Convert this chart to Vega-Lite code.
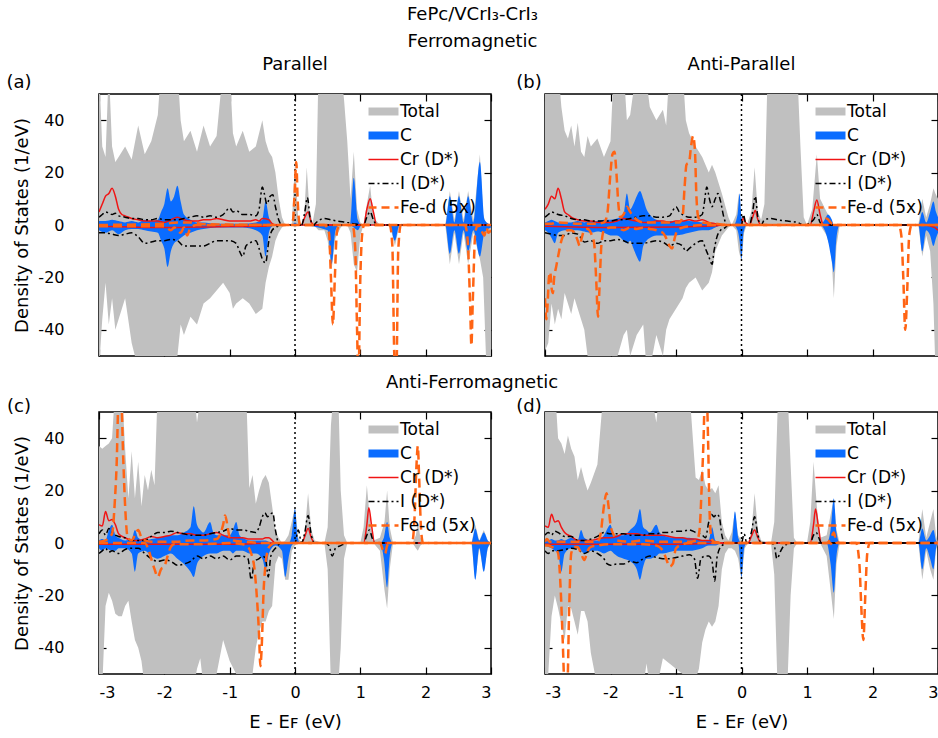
{
"$schema": "https://vega.github.io/schema/vega-lite/v6.json",
"background": "white",
"padding": {"left": 5, "right": 2, "top": 6, "bottom": 5},
"title": {"text": "FePc/VCrI₃-CrI₃", "subtitle": "Ferromagnetic", "anchor": "middle", "frame": "bounds", "fontSize": 18, "subtitleFontSize": 18, "fontWeight": "normal", "color": "black", "subtitleColor": "black", "subtitlePadding": 9, "offset": 4},
"config": {
  "font": "DejaVu Sans",
  "view": {"stroke": "black", "strokeWidth": 1.5},
  "axis": {"grid": false, "domain": false, "tickColor": "black", "tickWidth": 1.2, "labelFontSize": 16, "labelColor": "black", "titleFontSize": 18, "titleFontWeight": "normal", "titleColor": "black"},
  "title": {"fontWeight": "normal", "fontSize": 18, "color": "black"},
  "legend": {"title": null, "orient": "top-right", "offset": 7, "padding": 2, "labelFontSize": 17, "labelColor": "black", "symbolType": "M-1,0H1", "symbolSize": 900, "rowPadding": 6, "labelOffset": 8}
},
"columns": 2,
"spacing": {"row": 56, "column": 54},
"bounds": "flush",
"resolve": {"scale": {"color": "independent"}, "legend": {"color": "independent"}},
"datasets": {
"A": [
{"s":"Total","x":-3,"u":60,"d":-55},{"s":"Total","x":-2.95,"u":30,"d":-36},{"s":"Total","x":-2.9,"u":26,"d":-22},{"s":"Total","x":-2.85,"u":60,"d":-38},{"s":"Total","x":-2.8,"u":30,"d":-28},{"s":"Total","x":-2.75,"u":24,"d":-40},{"s":"Total","x":-2.7,"u":26,"d":-36},{"s":"Total","x":-2.6,"u":30,"d":-28},{"s":"Total","x":-2.5,"u":25,"d":-45},{"s":"Total","x":-2.4,"u":38,"d":-55},{"s":"Total","x":-2.3,"u":27,"d":-55},{"s":"Total","x":-2.2,"u":32,"d":-55},{"s":"Total","x":-2.1,"u":42,"d":-55},{"s":"Total","x":-2.05,"u":60,"d":-55},{"s":"Total","x":-1.9,"u":60,"d":-55},{"s":"Total","x":-1.8,"u":60,"d":-50},{"s":"Total","x":-1.75,"u":40,"d":-38},{"s":"Total","x":-1.7,"u":32,"d":-42},{"s":"Total","x":-1.6,"u":36,"d":-35},{"s":"Total","x":-1.5,"u":28,"d":-38},{"s":"Total","x":-1.4,"u":38,"d":-30},{"s":"Total","x":-1.3,"u":30,"d":-28},{"s":"Total","x":-1.2,"u":34,"d":-25},{"s":"Total","x":-1.1,"u":60,"d":-22},{"s":"Total","x":-1.0,"u":60,"d":-26},{"s":"Total","x":-0.95,"u":35,"d":-32},{"s":"Total","x":-0.9,"u":30,"d":-30},{"s":"Total","x":-0.8,"u":36,"d":-28},{"s":"Total","x":-0.7,"u":28,"d":-30},{"s":"Total","x":-0.6,"u":30,"d":-34},{"s":"Total","x":-0.5,"u":40,"d":-32},{"s":"Total","x":-0.45,"u":32,"d":-22},{"s":"Total","x":-0.4,"u":28,"d":-16},{"s":"Total","x":-0.35,"u":26,"d":-12},{"s":"Total","x":-0.3,"u":20,"d":-6},{"s":"Total","x":-0.25,"u":10,"d":-3},{"s":"Total","x":-0.2,"u":3,"d":-1},{"s":"Total","x":-0.15,"u":0,"d":0},{"s":"Total","x":-0.05,"u":0,"d":0},{"s":"Total","x":0,"u":24,"d":-1},{"s":"Total","x":0.05,"u":2,"d":0},{"s":"Total","x":0.1,"u":0,"d":0},{"s":"Total","x":0.14,"u":3,"d":0},{"s":"Total","x":0.18,"u":22,"d":0},{"s":"Total","x":0.22,"u":6,"d":0},{"s":"Total","x":0.27,"u":1,"d":0},{"s":"Total","x":0.32,"u":8,"d":-1},{"s":"Total","x":0.36,"u":60,"d":-2},{"s":"Total","x":0.45,"u":60,"d":-2},{"s":"Total","x":0.5,"u":60,"d":-6},{"s":"Total","x":0.56,"u":60,"d":-17},{"s":"Total","x":0.62,"u":60,"d":-5},{"s":"Total","x":0.7,"u":60,"d":-1},{"s":"Total","x":0.75,"u":48,"d":0},{"s":"Total","x":0.8,"u":32,"d":0},{"s":"Total","x":0.85,"u":10,"d":-3},{"s":"Total","x":0.9,"u":28,"d":-15},{"s":"Total","x":0.95,"u":6,"d":-18},{"s":"Total","x":1.0,"u":1,"d":-4},{"s":"Total","x":1.05,"u":0,"d":0},{"s":"Total","x":1.1,"u":8,"d":0},{"s":"Total","x":1.15,"u":15,"d":0},{"s":"Total","x":1.2,"u":3,"d":0},{"s":"Total","x":1.3,"u":0,"d":0},{"s":"Total","x":1.45,"u":0,"d":0},{"s":"Total","x":1.53,"u":0,"d":-8},{"s":"Total","x":1.6,"u":0,"d":0},{"s":"Total","x":2.3,"u":0,"d":0},{"s":"Total","x":2.37,"u":13,"d":-15},{"s":"Total","x":2.44,"u":2,"d":-3},{"s":"Total","x":2.51,"u":13,"d":-15},{"s":"Total","x":2.58,"u":2,"d":-3},{"s":"Total","x":2.65,"u":13,"d":-15},{"s":"Total","x":2.73,"u":2,"d":-3},{"s":"Total","x":2.83,"u":27,"d":-13},{"s":"Total","x":2.88,"u":4,"d":-20},{"s":"Total","x":2.93,"u":0,"d":-55},{"s":"Total","x":3,"u":0,"d":-55},
{"s":"C","x":-3,"u":1.5,"d":-2},{"s":"C","x":-2.9,"u":1.5,"d":-3},{"s":"C","x":-2.8,"u":2,"d":-2},{"s":"C","x":-2.7,"u":1.5,"d":-3.5},{"s":"C","x":-2.6,"u":1,"d":-2},{"s":"C","x":-2.5,"u":1.5,"d":-1.5},{"s":"C","x":-2.4,"u":1,"d":-1.5},{"s":"C","x":-2.3,"u":2,"d":-2},{"s":"C","x":-2.2,"u":1.5,"d":-2.5},{"s":"C","x":-2.1,"u":2,"d":-3},{"s":"C","x":-2.05,"u":5,"d":-6},{"s":"C","x":-2,"u":8,"d":-9},{"s":"C","x":-1.95,"u":14,"d":-16},{"s":"C","x":-1.9,"u":9,"d":-10},{"s":"C","x":-1.85,"u":11,"d":-7},{"s":"C","x":-1.8,"u":15,"d":-6},{"s":"C","x":-1.75,"u":9,"d":-5},{"s":"C","x":-1.7,"u":4,"d":-4},{"s":"C","x":-1.6,"u":2,"d":-3},{"s":"C","x":-1.5,"u":1,"d":-2},{"s":"C","x":-1.4,"u":1,"d":-1.5},{"s":"C","x":-1.2,"u":0.5,"d":-1},{"s":"C","x":-1,"u":0.5,"d":-1},{"s":"C","x":-0.8,"u":0.5,"d":-1},{"s":"C","x":-0.6,"u":1,"d":-2},{"s":"C","x":-0.5,"u":2,"d":-4},{"s":"C","x":-0.45,"u":9,"d":-12},{"s":"C","x":-0.4,"u":3,"d":-3},{"s":"C","x":-0.35,"u":0.5,"d":-0.5},{"s":"C","x":-0.3,"u":0,"d":0},{"s":"C","x":-0.05,"u":0,"d":0},{"s":"C","x":0,"u":1,"d":0},{"s":"C","x":0.05,"u":0,"d":0},{"s":"C","x":0.5,"u":0,"d":-2},{"s":"C","x":0.56,"u":0,"d":-15},{"s":"C","x":0.62,"u":0,"d":-2},{"s":"C","x":0.68,"u":0,"d":0},{"s":"C","x":0.84,"u":0,"d":0},{"s":"C","x":0.9,"u":18,"d":-1},{"s":"C","x":0.96,"u":2,"d":-2},{"s":"C","x":1.02,"u":0,"d":0},{"s":"C","x":1.45,"u":0,"d":0},{"s":"C","x":1.53,"u":0,"d":-6},{"s":"C","x":1.6,"u":0,"d":0},{"s":"C","x":2.3,"u":0,"d":0},{"s":"C","x":2.37,"u":11,"d":-11},{"s":"C","x":2.44,"u":1,"d":-2},{"s":"C","x":2.51,"u":11,"d":-11},{"s":"C","x":2.58,"u":1,"d":-2},{"s":"C","x":2.65,"u":11,"d":-10},{"s":"C","x":2.73,"u":1,"d":-2},{"s":"C","x":2.83,"u":24,"d":-12},{"s":"C","x":2.9,"u":2,"d":-3},{"s":"C","x":3,"u":0,"d":-1},
{"s":"Cr","p":"u","x":-3,"y":5},{"s":"Cr","p":"u","x":-2.95,"y":8},{"s":"Cr","p":"u","x":-2.9,"y":11},{"s":"Cr","p":"u","x":-2.85,"y":12},{"s":"Cr","p":"u","x":-2.8,"y":14},{"s":"Cr","p":"u","x":-2.75,"y":11},{"s":"Cr","p":"u","x":-2.7,"y":6},{"s":"Cr","p":"u","x":-2.65,"y":4},{"s":"Cr","p":"u","x":-2.6,"y":3.5},{"s":"Cr","p":"u","x":-2.5,"y":2.5},{"s":"Cr","p":"u","x":-2.4,"y":2},{"s":"Cr","p":"u","x":-2.3,"y":1.5},{"s":"Cr","p":"u","x":-2.2,"y":1.5},{"s":"Cr","p":"u","x":-2.1,"y":1.5},{"s":"Cr","p":"u","x":-2,"y":1},{"s":"Cr","p":"u","x":-1.9,"y":2},{"s":"Cr","p":"u","x":-1.8,"y":3},{"s":"Cr","p":"u","x":-1.7,"y":2},{"s":"Cr","p":"u","x":-1.6,"y":1.5},{"s":"Cr","p":"u","x":-1.5,"y":1.5},{"s":"Cr","p":"u","x":-1.4,"y":2},{"s":"Cr","p":"u","x":-1.3,"y":2},{"s":"Cr","p":"u","x":-1.2,"y":2.5},{"s":"Cr","p":"u","x":-1.1,"y":2},{"s":"Cr","p":"u","x":-1,"y":1.5},{"s":"Cr","p":"u","x":-0.9,"y":1.5},{"s":"Cr","p":"u","x":-0.8,"y":1.5},{"s":"Cr","p":"u","x":-0.7,"y":1.5},{"s":"Cr","p":"u","x":-0.6,"y":2},{"s":"Cr","p":"u","x":-0.55,"y":1.5},{"s":"Cr","p":"u","x":-0.5,"y":2.5},{"s":"Cr","p":"u","x":-0.4,"y":2},{"s":"Cr","p":"u","x":-0.35,"y":0.5},{"s":"Cr","p":"u","x":-0.3,"y":0},{"s":"Cr","p":"u","x":0.1,"y":0},{"s":"Cr","p":"u","x":0.15,"y":3},{"s":"Cr","p":"u","x":0.2,"y":5},{"s":"Cr","p":"u","x":0.25,"y":1},{"s":"Cr","p":"u","x":0.3,"y":0},{"s":"Cr","p":"u","x":1.05,"y":0},{"s":"Cr","p":"u","x":1.1,"y":6},{"s":"Cr","p":"u","x":1.15,"y":10},{"s":"Cr","p":"u","x":1.2,"y":5},{"s":"Cr","p":"u","x":1.25,"y":0},{"s":"Cr","p":"u","x":3,"y":0},
{"s":"Cr","p":"d","x":-3,"y":-0.5},{"s":"Cr","p":"d","x":-2.5,"y":-0.8},{"s":"Cr","p":"d","x":-2,"y":-1},{"s":"Cr","p":"d","x":-1.5,"y":-0.8},{"s":"Cr","p":"d","x":-1,"y":-0.6},{"s":"Cr","p":"d","x":-0.5,"y":-0.5},{"s":"Cr","p":"d","x":-0.3,"y":0},{"s":"Cr","p":"d","x":3,"y":0},
{"s":"I","p":"u","x":-3,"y":3},{"s":"I","p":"u","x":-2.95,"y":4},{"s":"I","p":"u","x":-2.9,"y":5},{"s":"I","p":"u","x":-2.85,"y":4.5},{"s":"I","p":"u","x":-2.8,"y":4},{"s":"I","p":"u","x":-2.75,"y":4.5},{"s":"I","p":"u","x":-2.7,"y":3.5},{"s":"I","p":"u","x":-2.6,"y":3},{"s":"I","p":"u","x":-2.5,"y":2.5},{"s":"I","p":"u","x":-2.4,"y":2.5},{"s":"I","p":"u","x":-2.3,"y":2},{"s":"I","p":"u","x":-2.2,"y":2},{"s":"I","p":"u","x":-2.1,"y":2.5},{"s":"I","p":"u","x":-2,"y":2},{"s":"I","p":"u","x":-1.9,"y":2},{"s":"I","p":"u","x":-1.8,"y":2},{"s":"I","p":"u","x":-1.7,"y":2.5},{"s":"I","p":"u","x":-1.6,"y":3},{"s":"I","p":"u","x":-1.5,"y":3.5},{"s":"I","p":"u","x":-1.4,"y":3},{"s":"I","p":"u","x":-1.3,"y":3.5},{"s":"I","p":"u","x":-1.2,"y":3},{"s":"I","p":"u","x":-1.1,"y":4},{"s":"I","p":"u","x":-1,"y":6.5},{"s":"I","p":"u","x":-0.95,"y":5},{"s":"I","p":"u","x":-0.9,"y":5.5},{"s":"I","p":"u","x":-0.8,"y":4},{"s":"I","p":"u","x":-0.7,"y":4},{"s":"I","p":"u","x":-0.6,"y":3.5},{"s":"I","p":"u","x":-0.55,"y":6},{"s":"I","p":"u","x":-0.5,"y":14.5},{"s":"I","p":"u","x":-0.47,"y":12},{"s":"I","p":"u","x":-0.43,"y":8},{"s":"I","p":"u","x":-0.38,"y":11},{"s":"I","p":"u","x":-0.34,"y":11.5},{"s":"I","p":"u","x":-0.3,"y":7},{"s":"I","p":"u","x":-0.25,"y":2},{"s":"I","p":"u","x":-0.2,"y":0},{"s":"I","p":"u","x":0.1,"y":0},{"s":"I","p":"u","x":0.15,"y":5},{"s":"I","p":"u","x":0.19,"y":10.5},{"s":"I","p":"u","x":0.23,"y":3},{"s":"I","p":"u","x":0.28,"y":0},{"s":"I","p":"u","x":0.35,"y":1.5},{"s":"I","p":"u","x":0.45,"y":2.5},{"s":"I","p":"u","x":0.55,"y":2},{"s":"I","p":"u","x":0.65,"y":1.5},{"s":"I","p":"u","x":0.8,"y":1},{"s":"I","p":"u","x":0.9,"y":0.5},{"s":"I","p":"u","x":1.05,"y":0},{"s":"I","p":"u","x":1.1,"y":3},{"s":"I","p":"u","x":1.15,"y":5},{"s":"I","p":"u","x":1.2,"y":2},{"s":"I","p":"u","x":1.25,"y":0},{"s":"I","p":"u","x":3,"y":0},
{"s":"I","p":"d","x":-3,"y":-3},{"s":"I","p":"d","x":-2.9,"y":-3},{"s":"I","p":"d","x":-2.8,"y":-3.5},{"s":"I","p":"d","x":-2.7,"y":-4},{"s":"I","p":"d","x":-2.6,"y":-3.5},{"s":"I","p":"d","x":-2.5,"y":-3},{"s":"I","p":"d","x":-2.4,"y":-4.5},{"s":"I","p":"d","x":-2.3,"y":-7},{"s":"I","p":"d","x":-2.2,"y":-6.5},{"s":"I","p":"d","x":-2.1,"y":-6},{"s":"I","p":"d","x":-2,"y":-6},{"s":"I","p":"d","x":-1.9,"y":-5.5},{"s":"I","p":"d","x":-1.8,"y":-6},{"s":"I","p":"d","x":-1.7,"y":-8},{"s":"I","p":"d","x":-1.6,"y":-8},{"s":"I","p":"d","x":-1.5,"y":-8},{"s":"I","p":"d","x":-1.4,"y":-8},{"s":"I","p":"d","x":-1.3,"y":-7},{"s":"I","p":"d","x":-1.2,"y":-6},{"s":"I","p":"d","x":-1.1,"y":-6},{"s":"I","p":"d","x":-1,"y":-6},{"s":"I","p":"d","x":-0.9,"y":-7},{"s":"I","p":"d","x":-0.85,"y":-10},{"s":"I","p":"d","x":-0.8,"y":-12},{"s":"I","p":"d","x":-0.75,"y":-8},{"s":"I","p":"d","x":-0.7,"y":-7},{"s":"I","p":"d","x":-0.6,"y":-6},{"s":"I","p":"d","x":-0.55,"y":-9},{"s":"I","p":"d","x":-0.5,"y":-13},{"s":"I","p":"d","x":-0.45,"y":-14.5},{"s":"I","p":"d","x":-0.4,"y":-6},{"s":"I","p":"d","x":-0.35,"y":-2},{"s":"I","p":"d","x":-0.3,"y":-1},{"s":"I","p":"d","x":-0.2,"y":0},{"s":"I","p":"d","x":3,"y":0},
{"s":"Fe","p":"u","x":-3,"y":0},{"s":"Fe","p":"u","x":-2,"y":0.5},{"s":"Fe","p":"u","x":-1.8,"y":1},{"s":"Fe","p":"u","x":-1.6,"y":1},{"s":"Fe","p":"u","x":-1.4,"y":0.3},{"s":"Fe","p":"u","x":-0.1,"y":0},{"s":"Fe","p":"u","x":-0.03,"y":2},{"s":"Fe","p":"u","x":-0.01,"y":10},{"s":"Fe","p":"u","x":0.02,"y":24},{"s":"Fe","p":"u","x":0.04,"y":10},{"s":"Fe","p":"u","x":0.06,"y":2},{"s":"Fe","p":"u","x":0.08,"y":0},{"s":"Fe","p":"u","x":3,"y":0},
{"s":"Fe","p":"d","x":-3,"y":-0.5},{"s":"Fe","p":"d","x":-2,"y":-0.5},{"s":"Fe","p":"d","x":-1.9,"y":-2},{"s":"Fe","p":"d","x":-1.85,"y":-1},{"s":"Fe","p":"d","x":-1.75,"y":-3},{"s":"Fe","p":"d","x":-1.7,"y":-1},{"s":"Fe","p":"d","x":-1.65,"y":-4},{"s":"Fe","p":"d","x":-1.6,"y":-1},{"s":"Fe","p":"d","x":-1.5,"y":0},{"s":"Fe","p":"d","x":0.45,"y":0},{"s":"Fe","p":"d","x":0.52,"y":-3},{"s":"Fe","p":"d","x":0.55,"y":-20},{"s":"Fe","p":"d","x":0.58,"y":-38},{"s":"Fe","p":"d","x":0.61,"y":-20},{"s":"Fe","p":"d","x":0.64,"y":-3},{"s":"Fe","p":"d","x":0.68,"y":0},{"s":"Fe","p":"d","x":0.88,"y":0},{"s":"Fe","p":"d","x":0.92,"y":-8},{"s":"Fe","p":"d","x":0.95,"y":-40},{"s":"Fe","p":"d","x":0.97,"y":-60},{"s":"Fe","p":"d","x":1,"y":-20},{"s":"Fe","p":"d","x":1.03,"y":-3},{"s":"Fe","p":"d","x":1.06,"y":0},{"s":"Fe","p":"d","x":1.45,"y":0},{"s":"Fe","p":"d","x":1.49,"y":-8},{"s":"Fe","p":"d","x":1.52,"y":-50},{"s":"Fe","p":"d","x":1.55,"y":-60},{"s":"Fe","p":"d","x":1.58,"y":-10},{"s":"Fe","p":"d","x":1.62,"y":0},{"s":"Fe","p":"d","x":2.6,"y":0},{"s":"Fe","p":"d","x":2.64,"y":-5},{"s":"Fe","p":"d","x":2.68,"y":-30},{"s":"Fe","p":"d","x":2.7,"y":-46},{"s":"Fe","p":"d","x":2.72,"y":-30},{"s":"Fe","p":"d","x":2.76,"y":-3},{"s":"Fe","p":"d","x":2.8,"y":0},{"s":"Fe","p":"d","x":2.85,"y":-2},{"s":"Fe","p":"d","x":2.9,"y":-4},{"s":"Fe","p":"d","x":2.93,"y":-1},{"s":"Fe","p":"d","x":2.96,"y":-3},{"s":"Fe","p":"d","x":3,"y":-2}
],
"B": [
{"s":"Total","x":-3,"u":60,"d":-48},{"s":"Total","x":-2.95,"u":60,"d":-45},{"s":"Total","x":-2.9,"u":60,"d":-30},{"s":"Total","x":-2.85,"u":60,"d":-38},{"s":"Total","x":-2.8,"u":60,"d":-32},{"s":"Total","x":-2.75,"u":45,"d":-36},{"s":"Total","x":-2.7,"u":36,"d":-26},{"s":"Total","x":-2.65,"u":33,"d":-30},{"s":"Total","x":-2.6,"u":38,"d":-34},{"s":"Total","x":-2.55,"u":30,"d":-28},{"s":"Total","x":-2.5,"u":39,"d":-32},{"s":"Total","x":-2.45,"u":28,"d":-36},{"s":"Total","x":-2.4,"u":26,"d":-40},{"s":"Total","x":-2.35,"u":34,"d":-50},{"s":"Total","x":-2.3,"u":30,"d":-55},{"s":"Total","x":-2.2,"u":33,"d":-55},{"s":"Total","x":-2.1,"u":26,"d":-55},{"s":"Total","x":-2,"u":32,"d":-55},{"s":"Total","x":-1.95,"u":60,"d":-55},{"s":"Total","x":-1.8,"u":60,"d":-42},{"s":"Total","x":-1.75,"u":40,"d":-40},{"s":"Total","x":-1.7,"u":42,"d":-50},{"s":"Total","x":-1.6,"u":60,"d":-42},{"s":"Total","x":-1.5,"u":60,"d":-38},{"s":"Total","x":-1.45,"u":55,"d":-55},{"s":"Total","x":-1.4,"u":45,"d":-55},{"s":"Total","x":-1.3,"u":40,"d":-42},{"s":"Total","x":-1.2,"u":44,"d":-50},{"s":"Total","x":-1.15,"u":38,"d":-40},{"s":"Total","x":-1.1,"u":60,"d":-36},{"s":"Total","x":-0.9,"u":60,"d":-28},{"s":"Total","x":-0.85,"u":40,"d":-24},{"s":"Total","x":-0.8,"u":35,"d":-22},{"s":"Total","x":-0.7,"u":30,"d":-20},{"s":"Total","x":-0.6,"u":26,"d":-25},{"s":"Total","x":-0.5,"u":20,"d":-22},{"s":"Total","x":-0.45,"u":23,"d":-18},{"s":"Total","x":-0.4,"u":20,"d":-10},{"s":"Total","x":-0.3,"u":12,"d":-4},{"s":"Total","x":-0.2,"u":3,"d":-1},{"s":"Total","x":-0.15,"u":0,"d":0},{"s":"Total","x":-0.08,"u":4,"d":-2},{"s":"Total","x":-0.04,"u":12,"d":-10},{"s":"Total","x":0,"u":3,"d":-14},{"s":"Total","x":0.04,"u":2,"d":-3},{"s":"Total","x":0.08,"u":0,"d":0},{"s":"Total","x":0.15,"u":5,"d":0},{"s":"Total","x":0.2,"u":22,"d":0},{"s":"Total","x":0.25,"u":5,"d":0},{"s":"Total","x":0.3,"u":2,"d":0},{"s":"Total","x":0.35,"u":8,"d":0},{"s":"Total","x":0.4,"u":60,"d":0},{"s":"Total","x":0.85,"u":60,"d":0},{"s":"Total","x":0.9,"u":30,"d":0},{"s":"Total","x":0.95,"u":3,"d":0},{"s":"Total","x":1,"u":0,"d":0},{"s":"Total","x":1.08,"u":6,"d":0},{"s":"Total","x":1.15,"u":27,"d":0},{"s":"Total","x":1.2,"u":10,"d":0},{"s":"Total","x":1.3,"u":5,"d":-4},{"s":"Total","x":1.37,"u":2,"d":-10},{"s":"Total","x":1.41,"u":0,"d":-28},{"s":"Total","x":1.45,"u":0,"d":-8},{"s":"Total","x":1.5,"u":0,"d":0},{"s":"Total","x":2.7,"u":0,"d":0},{"s":"Total","x":2.76,"u":10,"d":-12},{"s":"Total","x":2.82,"u":3,"d":-4},{"s":"Total","x":2.88,"u":8,"d":-10},{"s":"Total","x":2.93,"u":14,"d":-30},{"s":"Total","x":2.96,"u":12,"d":-55},{"s":"Total","x":3,"u":10,"d":-55},
{"s":"C","x":-3,"u":1,"d":-2},{"s":"C","x":-2.95,"u":1.5,"d":-3},{"s":"C","x":-2.9,"u":2,"d":-5},{"s":"C","x":-2.85,"u":1.5,"d":-7},{"s":"C","x":-2.8,"u":1,"d":-3},{"s":"C","x":-2.7,"u":1,"d":-2},{"s":"C","x":-2.6,"u":1,"d":-2},{"s":"C","x":-2.5,"u":1.5,"d":-2},{"s":"C","x":-2.4,"u":1,"d":-2.5},{"s":"C","x":-2.3,"u":1.5,"d":-3},{"s":"C","x":-2.2,"u":1.5,"d":-2.5},{"s":"C","x":-2.1,"u":2,"d":-3},{"s":"C","x":-2,"u":2,"d":-4},{"s":"C","x":-1.9,"u":2.5,"d":-4},{"s":"C","x":-1.8,"u":4,"d":-6},{"s":"C","x":-1.75,"u":12,"d":-7},{"s":"C","x":-1.7,"u":6,"d":-6},{"s":"C","x":-1.65,"u":8,"d":-9},{"s":"C","x":-1.6,"u":11,"d":-12},{"s":"C","x":-1.55,"u":13,"d":-14},{"s":"C","x":-1.5,"u":10,"d":-8},{"s":"C","x":-1.45,"u":6,"d":-6},{"s":"C","x":-1.4,"u":4,"d":-5},{"s":"C","x":-1.3,"u":2,"d":-4},{"s":"C","x":-1.2,"u":1.5,"d":-4},{"s":"C","x":-1,"u":1.5,"d":-4},{"s":"C","x":-0.8,"u":1.5,"d":-3},{"s":"C","x":-0.6,"u":1,"d":-2},{"s":"C","x":-0.5,"u":1,"d":-2},{"s":"C","x":-0.4,"u":0.5,"d":-1},{"s":"C","x":-0.3,"u":0,"d":0},{"s":"C","x":-0.12,"u":0,"d":0},{"s":"C","x":-0.06,"u":4,"d":-2},{"s":"C","x":-0.03,"u":12,"d":-6},{"s":"C","x":0,"u":3,"d":-13},{"s":"C","x":0.03,"u":0,"d":-3},{"s":"C","x":0.08,"u":0,"d":0},{"s":"C","x":1.2,"u":0,"d":0},{"s":"C","x":1.27,"u":2,"d":-2},{"s":"C","x":1.32,"u":4,"d":-6},{"s":"C","x":1.38,"u":2,"d":-14},{"s":"C","x":1.41,"u":0,"d":-18},{"s":"C","x":1.45,"u":0,"d":-5},{"s":"C","x":1.5,"u":0,"d":0},{"s":"C","x":2.7,"u":0,"d":0},{"s":"C","x":2.76,"u":5,"d":-10},{"s":"C","x":2.82,"u":1,"d":-2},{"s":"C","x":2.88,"u":5,"d":-4},{"s":"C","x":2.93,"u":9,"d":-8},{"s":"C","x":2.97,"u":5,"d":-5},{"s":"C","x":3,"u":3,"d":-3},
{"s":"Cr","p":"u","x":-3,"y":6},{"s":"Cr","p":"u","x":-2.95,"y":8},{"s":"Cr","p":"u","x":-2.9,"y":11},{"s":"Cr","p":"u","x":-2.85,"y":10},{"s":"Cr","p":"u","x":-2.8,"y":14},{"s":"Cr","p":"u","x":-2.75,"y":10},{"s":"Cr","p":"u","x":-2.7,"y":5},{"s":"Cr","p":"u","x":-2.65,"y":4},{"s":"Cr","p":"u","x":-2.6,"y":3},{"s":"Cr","p":"u","x":-2.5,"y":2},{"s":"Cr","p":"u","x":-2.4,"y":1.5},{"s":"Cr","p":"u","x":-2.3,"y":1.5},{"s":"Cr","p":"u","x":-2.2,"y":1},{"s":"Cr","p":"u","x":-2.1,"y":1},{"s":"Cr","p":"u","x":-2,"y":1},{"s":"Cr","p":"u","x":-1.9,"y":1.5},{"s":"Cr","p":"u","x":-1.8,"y":2.5},{"s":"Cr","p":"u","x":-1.7,"y":2},{"s":"Cr","p":"u","x":-1.6,"y":1.5},{"s":"Cr","p":"u","x":-1.5,"y":1},{"s":"Cr","p":"u","x":-1.4,"y":1},{"s":"Cr","p":"u","x":-1.3,"y":1.5},{"s":"Cr","p":"u","x":-1.2,"y":1.5},{"s":"Cr","p":"u","x":-1.1,"y":1},{"s":"Cr","p":"u","x":-1,"y":1.5},{"s":"Cr","p":"u","x":-0.9,"y":1.5},{"s":"Cr","p":"u","x":-0.8,"y":2},{"s":"Cr","p":"u","x":-0.7,"y":1.5},{"s":"Cr","p":"u","x":-0.6,"y":2},{"s":"Cr","p":"u","x":-0.5,"y":1},{"s":"Cr","p":"u","x":-0.4,"y":0.5},{"s":"Cr","p":"u","x":-0.3,"y":0},{"s":"Cr","p":"u","x":0,"y":0},{"s":"Cr","p":"u","x":0.03,"y":3},{"s":"Cr","p":"u","x":0.06,"y":1},{"s":"Cr","p":"u","x":0.12,"y":0},{"s":"Cr","p":"u","x":0.17,"y":3},{"s":"Cr","p":"u","x":0.21,"y":5.5},{"s":"Cr","p":"u","x":0.25,"y":2},{"s":"Cr","p":"u","x":0.3,"y":0},{"s":"Cr","p":"u","x":1.05,"y":0},{"s":"Cr","p":"u","x":1.1,"y":5},{"s":"Cr","p":"u","x":1.15,"y":9.5},{"s":"Cr","p":"u","x":1.2,"y":4},{"s":"Cr","p":"u","x":1.25,"y":0},{"s":"Cr","p":"u","x":3,"y":0},
{"s":"Cr","p":"d","x":-3,"y":-0.5},{"s":"Cr","p":"d","x":-2,"y":-1},{"s":"Cr","p":"d","x":-1,"y":-0.8},{"s":"Cr","p":"d","x":-0.4,"y":-0.3},{"s":"Cr","p":"d","x":-0.3,"y":0},{"s":"Cr","p":"d","x":2.8,"y":0},{"s":"Cr","p":"d","x":2.95,"y":-1},{"s":"Cr","p":"d","x":3,"y":-2},
{"s":"I","p":"u","x":-3,"y":3},{"s":"I","p":"u","x":-2.95,"y":4},{"s":"I","p":"u","x":-2.9,"y":5},{"s":"I","p":"u","x":-2.85,"y":4.5},{"s":"I","p":"u","x":-2.8,"y":4},{"s":"I","p":"u","x":-2.7,"y":3.5},{"s":"I","p":"u","x":-2.6,"y":2.5},{"s":"I","p":"u","x":-2.5,"y":2},{"s":"I","p":"u","x":-2.4,"y":2},{"s":"I","p":"u","x":-2.3,"y":1.5},{"s":"I","p":"u","x":-2.2,"y":1.5},{"s":"I","p":"u","x":-2.1,"y":1.5},{"s":"I","p":"u","x":-2,"y":1.5},{"s":"I","p":"u","x":-1.9,"y":2},{"s":"I","p":"u","x":-1.8,"y":2},{"s":"I","p":"u","x":-1.7,"y":2.5},{"s":"I","p":"u","x":-1.6,"y":3},{"s":"I","p":"u","x":-1.5,"y":3.5},{"s":"I","p":"u","x":-1.4,"y":3.5},{"s":"I","p":"u","x":-1.3,"y":3},{"s":"I","p":"u","x":-1.2,"y":3},{"s":"I","p":"u","x":-1.1,"y":3.5},{"s":"I","p":"u","x":-1,"y":7},{"s":"I","p":"u","x":-0.95,"y":5},{"s":"I","p":"u","x":-0.9,"y":4},{"s":"I","p":"u","x":-0.8,"y":3},{"s":"I","p":"u","x":-0.7,"y":3},{"s":"I","p":"u","x":-0.6,"y":4},{"s":"I","p":"u","x":-0.57,"y":8},{"s":"I","p":"u","x":-0.53,"y":14.5},{"s":"I","p":"u","x":-0.49,"y":10},{"s":"I","p":"u","x":-0.45,"y":7},{"s":"I","p":"u","x":-0.4,"y":10},{"s":"I","p":"u","x":-0.36,"y":12},{"s":"I","p":"u","x":-0.32,"y":9},{"s":"I","p":"u","x":-0.27,"y":3},{"s":"I","p":"u","x":-0.22,"y":0},{"s":"I","p":"u","x":0,"y":0},{"s":"I","p":"u","x":0.03,"y":4},{"s":"I","p":"u","x":0.06,"y":1},{"s":"I","p":"u","x":0.12,"y":0},{"s":"I","p":"u","x":0.17,"y":5},{"s":"I","p":"u","x":0.21,"y":11},{"s":"I","p":"u","x":0.25,"y":3},{"s":"I","p":"u","x":0.3,"y":0},{"s":"I","p":"u","x":0.35,"y":2},{"s":"I","p":"u","x":0.45,"y":2.5},{"s":"I","p":"u","x":0.55,"y":2},{"s":"I","p":"u","x":0.7,"y":1.5},{"s":"I","p":"u","x":0.85,"y":1},{"s":"I","p":"u","x":0.95,"y":0},{"s":"I","p":"u","x":1.1,"y":2},{"s":"I","p":"u","x":1.15,"y":4},{"s":"I","p":"u","x":1.2,"y":1},{"s":"I","p":"u","x":1.25,"y":0},{"s":"I","p":"u","x":3,"y":0},
{"s":"I","p":"d","x":-3,"y":-3},{"s":"I","p":"d","x":-2.9,"y":-3.5},{"s":"I","p":"d","x":-2.8,"y":-4},{"s":"I","p":"d","x":-2.7,"y":-4},{"s":"I","p":"d","x":-2.6,"y":-3},{"s":"I","p":"d","x":-2.5,"y":-3.5},{"s":"I","p":"d","x":-2.45,"y":-5},{"s":"I","p":"d","x":-2.4,"y":-6.5},{"s":"I","p":"d","x":-2.3,"y":-6},{"s":"I","p":"d","x":-2.2,"y":-7},{"s":"I","p":"d","x":-2.1,"y":-6},{"s":"I","p":"d","x":-2,"y":-6},{"s":"I","p":"d","x":-1.9,"y":-5.5},{"s":"I","p":"d","x":-1.8,"y":-6},{"s":"I","p":"d","x":-1.7,"y":-7},{"s":"I","p":"d","x":-1.6,"y":-7},{"s":"I","p":"d","x":-1.5,"y":-7},{"s":"I","p":"d","x":-1.4,"y":-6.5},{"s":"I","p":"d","x":-1.3,"y":-6},{"s":"I","p":"d","x":-1.2,"y":-6.5},{"s":"I","p":"d","x":-1.1,"y":-8},{"s":"I","p":"d","x":-1,"y":-7},{"s":"I","p":"d","x":-0.9,"y":-8},{"s":"I","p":"d","x":-0.85,"y":-10},{"s":"I","p":"d","x":-0.8,"y":-9},{"s":"I","p":"d","x":-0.75,"y":-8},{"s":"I","p":"d","x":-0.7,"y":-7},{"s":"I","p":"d","x":-0.6,"y":-6},{"s":"I","p":"d","x":-0.55,"y":-9},{"s":"I","p":"d","x":-0.5,"y":-12},{"s":"I","p":"d","x":-0.45,"y":-15},{"s":"I","p":"d","x":-0.42,"y":-10},{"s":"I","p":"d","x":-0.38,"y":-5},{"s":"I","p":"d","x":-0.32,"y":-2},{"s":"I","p":"d","x":-0.25,"y":-1},{"s":"I","p":"d","x":-0.2,"y":0},{"s":"I","p":"d","x":3,"y":0},
{"s":"Fe","p":"u","x":-3,"y":0.5},{"s":"Fe","p":"u","x":-2.9,"y":0.5},{"s":"Fe","p":"u","x":-2.8,"y":1},{"s":"Fe","p":"u","x":-2.5,"y":0.5},{"s":"Fe","p":"u","x":-2.2,"y":0.5},{"s":"Fe","p":"u","x":-2.1,"y":1},{"s":"Fe","p":"u","x":-2.05,"y":4},{"s":"Fe","p":"u","x":-2,"y":20},{"s":"Fe","p":"u","x":-1.97,"y":27},{"s":"Fe","p":"u","x":-1.94,"y":28},{"s":"Fe","p":"u","x":-1.91,"y":20},{"s":"Fe","p":"u","x":-1.88,"y":8},{"s":"Fe","p":"u","x":-1.85,"y":3},{"s":"Fe","p":"u","x":-1.8,"y":4},{"s":"Fe","p":"u","x":-1.75,"y":7},{"s":"Fe","p":"u","x":-1.7,"y":5},{"s":"Fe","p":"u","x":-1.6,"y":2},{"s":"Fe","p":"u","x":-1.5,"y":1},{"s":"Fe","p":"u","x":-1.3,"y":1},{"s":"Fe","p":"u","x":-1.1,"y":1},{"s":"Fe","p":"u","x":-0.95,"y":1},{"s":"Fe","p":"u","x":-0.9,"y":3},{"s":"Fe","p":"u","x":-0.87,"y":14},{"s":"Fe","p":"u","x":-0.84,"y":23},{"s":"Fe","p":"u","x":-0.8,"y":24},{"s":"Fe","p":"u","x":-0.77,"y":30},{"s":"Fe","p":"u","x":-0.74,"y":34},{"s":"Fe","p":"u","x":-0.71,"y":28},{"s":"Fe","p":"u","x":-0.69,"y":12},{"s":"Fe","p":"u","x":-0.66,"y":3},{"s":"Fe","p":"u","x":-0.6,"y":1},{"s":"Fe","p":"u","x":-0.4,"y":0.5},{"s":"Fe","p":"u","x":-0.2,"y":0},{"s":"Fe","p":"u","x":1.2,"y":0},{"s":"Fe","p":"u","x":1.3,"y":2.5},{"s":"Fe","p":"u","x":1.38,"y":0.5},{"s":"Fe","p":"u","x":1.45,"y":0},{"s":"Fe","p":"u","x":3,"y":0},
{"s":"Fe","p":"d","x":-3,"y":-28},{"s":"Fe","p":"d","x":-2.98,"y":-36},{"s":"Fe","p":"d","x":-2.96,"y":-30},{"s":"Fe","p":"d","x":-2.94,"y":-20},{"s":"Fe","p":"d","x":-2.92,"y":-18},{"s":"Fe","p":"d","x":-2.9,"y":-24},{"s":"Fe","p":"d","x":-2.88,"y":-26},{"s":"Fe","p":"d","x":-2.86,"y":-20},{"s":"Fe","p":"d","x":-2.83,"y":-16},{"s":"Fe","p":"d","x":-2.8,"y":-12},{"s":"Fe","p":"d","x":-2.75,"y":-6},{"s":"Fe","p":"d","x":-2.7,"y":-3},{"s":"Fe","p":"d","x":-2.65,"y":-2},{"s":"Fe","p":"d","x":-2.6,"y":-2},{"s":"Fe","p":"d","x":-2.55,"y":-3},{"s":"Fe","p":"d","x":-2.5,"y":-6},{"s":"Fe","p":"d","x":-2.47,"y":-8},{"s":"Fe","p":"d","x":-2.44,"y":-5},{"s":"Fe","p":"d","x":-2.4,"y":-2},{"s":"Fe","p":"d","x":-2.35,"y":-1.5},{"s":"Fe","p":"d","x":-2.3,"y":-3},{"s":"Fe","p":"d","x":-2.25,"y":-7},{"s":"Fe","p":"d","x":-2.22,"y":-20},{"s":"Fe","p":"d","x":-2.19,"y":-35},{"s":"Fe","p":"d","x":-2.17,"y":-25},{"s":"Fe","p":"d","x":-2.14,"y":-8},{"s":"Fe","p":"d","x":-2.1,"y":-2},{"s":"Fe","p":"d","x":-2,"y":-1},{"s":"Fe","p":"d","x":-1.9,"y":-1},{"s":"Fe","p":"d","x":-1.8,"y":-2},{"s":"Fe","p":"d","x":-1.7,"y":-1},{"s":"Fe","p":"d","x":-1.6,"y":-1.5},{"s":"Fe","p":"d","x":-1.5,"y":-1},{"s":"Fe","p":"d","x":-1.4,"y":-1.5},{"s":"Fe","p":"d","x":-1.3,"y":-2},{"s":"Fe","p":"d","x":-1.2,"y":-3},{"s":"Fe","p":"d","x":-1.15,"y":-5},{"s":"Fe","p":"d","x":-1.1,"y":-8},{"s":"Fe","p":"d","x":-1.06,"y":-9},{"s":"Fe","p":"d","x":-1.02,"y":-5},{"s":"Fe","p":"d","x":-0.98,"y":-2},{"s":"Fe","p":"d","x":-0.9,"y":-1},{"s":"Fe","p":"d","x":-0.8,"y":-0.5},{"s":"Fe","p":"d","x":-0.6,"y":0},{"s":"Fe","p":"d","x":2.4,"y":0},{"s":"Fe","p":"d","x":2.44,"y":-4},{"s":"Fe","p":"d","x":2.47,"y":-20},{"s":"Fe","p":"d","x":2.5,"y":-40},{"s":"Fe","p":"d","x":2.53,"y":-25},{"s":"Fe","p":"d","x":2.56,"y":-4},{"s":"Fe","p":"d","x":2.6,"y":0},{"s":"Fe","p":"d","x":3,"y":0}
],
"C": [
{"s":"Total","x":-3,"u":37,"d":-55},{"s":"Total","x":-2.95,"u":36,"d":-55},{"s":"Total","x":-2.9,"u":37,"d":-24},{"s":"Total","x":-2.85,"u":38,"d":-19},{"s":"Total","x":-2.8,"u":40,"d":-22},{"s":"Total","x":-2.75,"u":60,"d":-27},{"s":"Total","x":-2.7,"u":60,"d":-28},{"s":"Total","x":-2.65,"u":60,"d":-28},{"s":"Total","x":-2.6,"u":36,"d":-24},{"s":"Total","x":-2.55,"u":17,"d":-22},{"s":"Total","x":-2.5,"u":35,"d":-30},{"s":"Total","x":-2.45,"u":17,"d":-37},{"s":"Total","x":-2.4,"u":31,"d":-40},{"s":"Total","x":-2.35,"u":14,"d":-45},{"s":"Total","x":-2.3,"u":26,"d":-55},{"s":"Total","x":-2.25,"u":20,"d":-55},{"s":"Total","x":-2.2,"u":28,"d":-55},{"s":"Total","x":-2.15,"u":22,"d":-55},{"s":"Total","x":-2.1,"u":60,"d":-55},{"s":"Total","x":-1.55,"u":60,"d":-55},{"s":"Total","x":-1.5,"u":46,"d":-48},{"s":"Total","x":-1.45,"u":55,"d":-44},{"s":"Total","x":-1.4,"u":60,"d":-55},{"s":"Total","x":-1.2,"u":60,"d":-50},{"s":"Total","x":-1.1,"u":60,"d":-37},{"s":"Total","x":-1,"u":60,"d":-45},{"s":"Total","x":-0.9,"u":60,"d":-50},{"s":"Total","x":-0.8,"u":60,"d":-55},{"s":"Total","x":-0.75,"u":60,"d":-55},{"s":"Total","x":-0.7,"u":21,"d":-55},{"s":"Total","x":-0.65,"u":26,"d":-50},{"s":"Total","x":-0.6,"u":15,"d":-40},{"s":"Total","x":-0.55,"u":20,"d":-34},{"s":"Total","x":-0.5,"u":24,"d":-30},{"s":"Total","x":-0.45,"u":26,"d":-30},{"s":"Total","x":-0.4,"u":23,"d":-26},{"s":"Total","x":-0.35,"u":14,"d":-24},{"s":"Total","x":-0.3,"u":5,"d":-8},{"s":"Total","x":-0.25,"u":2,"d":-5},{"s":"Total","x":-0.2,"u":0,"d":-6},{"s":"Total","x":-0.15,"u":1,"d":-14},{"s":"Total","x":-0.1,"u":3,"d":-14},{"s":"Total","x":-0.05,"u":8,"d":-3},{"s":"Total","x":0,"u":14,"d":-1},{"s":"Total","x":0.05,"u":2,"d":0},{"s":"Total","x":0.1,"u":0,"d":0},{"s":"Total","x":0.15,"u":4,"d":0},{"s":"Total","x":0.2,"u":19,"d":0},{"s":"Total","x":0.25,"u":5,"d":0},{"s":"Total","x":0.3,"u":1,"d":0},{"s":"Total","x":0.45,"u":0,"d":0},{"s":"Total","x":0.5,"u":6,"d":-10},{"s":"Total","x":0.55,"u":45,"d":-55},{"s":"Total","x":0.6,"u":60,"d":-55},{"s":"Total","x":0.66,"u":60,"d":-55},{"s":"Total","x":0.7,"u":20,"d":-40},{"s":"Total","x":0.75,"u":3,"d":-6},{"s":"Total","x":0.8,"u":0,"d":0},{"s":"Total","x":1,"u":0,"d":0},{"s":"Total","x":1.05,"u":6,"d":0},{"s":"Total","x":1.1,"u":22,"d":0},{"s":"Total","x":1.15,"u":8,"d":0},{"s":"Total","x":1.2,"u":1,"d":0},{"s":"Total","x":1.3,"u":2,"d":-3},{"s":"Total","x":1.37,"u":8,"d":-18},{"s":"Total","x":1.41,"u":20,"d":-25},{"s":"Total","x":1.45,"u":6,"d":-10},{"s":"Total","x":1.5,"u":0,"d":0},{"s":"Total","x":1.8,"u":0,"d":0},{"s":"Total","x":1.85,"u":3,"d":-2},{"s":"Total","x":1.88,"u":8,"d":-3},{"s":"Total","x":1.92,"u":2,"d":-1},{"s":"Total","x":1.97,"u":0,"d":0},{"s":"Total","x":2.7,"u":0,"d":0},{"s":"Total","x":2.76,"u":7,"d":-14},{"s":"Total","x":2.82,"u":1,"d":-2},{"s":"Total","x":2.89,"u":5,"d":-11},{"s":"Total","x":2.95,"u":1,"d":-2},{"s":"Total","x":3,"u":0,"d":0},
{"s":"C","x":-3,"u":1,"d":-2},{"s":"C","x":-2.95,"u":1.5,"d":-3},{"s":"C","x":-2.9,"u":1,"d":-2},{"s":"C","x":-2.85,"u":5,"d":-2.5},{"s":"C","x":-2.8,"u":7,"d":-3},{"s":"C","x":-2.75,"u":3,"d":-3},{"s":"C","x":-2.7,"u":2,"d":-2},{"s":"C","x":-2.6,"u":1,"d":-2},{"s":"C","x":-2.5,"u":1.5,"d":-4},{"s":"C","x":-2.45,"u":5,"d":-11},{"s":"C","x":-2.4,"u":2,"d":-4},{"s":"C","x":-2.3,"u":1,"d":-3},{"s":"C","x":-2.2,"u":1.5,"d":-5},{"s":"C","x":-2.1,"u":2,"d":-6},{"s":"C","x":-2,"u":2.5,"d":-5},{"s":"C","x":-1.9,"u":3,"d":-4},{"s":"C","x":-1.8,"u":3,"d":-6},{"s":"C","x":-1.7,"u":4,"d":-8},{"s":"C","x":-1.6,"u":6,"d":-11},{"s":"C","x":-1.55,"u":14,"d":-13},{"s":"C","x":-1.5,"u":7,"d":-8},{"s":"C","x":-1.45,"u":5,"d":-6},{"s":"C","x":-1.4,"u":4,"d":-5},{"s":"C","x":-1.3,"u":8,"d":-4},{"s":"C","x":-1.25,"u":4,"d":-4},{"s":"C","x":-1.2,"u":3,"d":-4},{"s":"C","x":-1.1,"u":3,"d":-3},{"s":"C","x":-1,"u":3,"d":-3},{"s":"C","x":-0.95,"u":5,"d":-4},{"s":"C","x":-0.9,"u":8,"d":-3},{"s":"C","x":-0.85,"u":3,"d":-3},{"s":"C","x":-0.8,"u":2,"d":-3},{"s":"C","x":-0.7,"u":1,"d":-4},{"s":"C","x":-0.6,"u":1,"d":-4},{"s":"C","x":-0.5,"u":1,"d":-6},{"s":"C","x":-0.45,"u":1,"d":-10},{"s":"C","x":-0.4,"u":0.5,"d":-4},{"s":"C","x":-0.3,"u":0,"d":-1},{"s":"C","x":-0.2,"u":0,"d":-3},{"s":"C","x":-0.15,"u":0,"d":-13},{"s":"C","x":-0.1,"u":0,"d":-6},{"s":"C","x":-0.05,"u":3,"d":-1},{"s":"C","x":0,"u":13,"d":0},{"s":"C","x":0.04,"u":2,"d":0},{"s":"C","x":0.08,"u":0,"d":0},{"s":"C","x":1.3,"u":0,"d":0},{"s":"C","x":1.36,"u":2,"d":-6},{"s":"C","x":1.41,"u":8,"d":-17},{"s":"C","x":1.45,"u":2,"d":-5},{"s":"C","x":1.5,"u":0,"d":0},{"s":"C","x":2.7,"u":0,"d":0},{"s":"C","x":2.76,"u":5.5,"d":-14},{"s":"C","x":2.82,"u":1,"d":-2},{"s":"C","x":2.89,"u":4,"d":-11},{"s":"C","x":2.95,"u":1,"d":-2},{"s":"C","x":3,"u":0,"d":0},
{"s":"Cr","p":"u","x":-3,"y":7},{"s":"Cr","p":"u","x":-2.95,"y":6.5},{"s":"Cr","p":"u","x":-2.9,"y":12},{"s":"Cr","p":"u","x":-2.85,"y":8.5},{"s":"Cr","p":"u","x":-2.8,"y":9},{"s":"Cr","p":"u","x":-2.75,"y":7},{"s":"Cr","p":"u","x":-2.7,"y":3.5},{"s":"Cr","p":"u","x":-2.6,"y":2},{"s":"Cr","p":"u","x":-2.5,"y":1},{"s":"Cr","p":"u","x":-2.4,"y":1},{"s":"Cr","p":"u","x":-2.3,"y":1.5},{"s":"Cr","p":"u","x":-2.2,"y":2.5},{"s":"Cr","p":"u","x":-2.1,"y":2},{"s":"Cr","p":"u","x":-2,"y":2.5},{"s":"Cr","p":"u","x":-1.9,"y":3},{"s":"Cr","p":"u","x":-1.8,"y":4},{"s":"Cr","p":"u","x":-1.7,"y":3.5},{"s":"Cr","p":"u","x":-1.6,"y":3.5},{"s":"Cr","p":"u","x":-1.5,"y":3},{"s":"Cr","p":"u","x":-1.4,"y":3},{"s":"Cr","p":"u","x":-1.3,"y":3.5},{"s":"Cr","p":"u","x":-1.2,"y":4},{"s":"Cr","p":"u","x":-1.1,"y":3},{"s":"Cr","p":"u","x":-1,"y":2},{"s":"Cr","p":"u","x":-0.9,"y":2},{"s":"Cr","p":"u","x":-0.8,"y":2},{"s":"Cr","p":"u","x":-0.7,"y":1.5},{"s":"Cr","p":"u","x":-0.6,"y":1.5},{"s":"Cr","p":"u","x":-0.5,"y":1.5},{"s":"Cr","p":"u","x":-0.45,"y":2},{"s":"Cr","p":"u","x":-0.4,"y":2},{"s":"Cr","p":"u","x":-0.35,"y":1},{"s":"Cr","p":"u","x":-0.3,"y":0},{"s":"Cr","p":"u","x":0.1,"y":0},{"s":"Cr","p":"u","x":0.15,"y":2.5},{"s":"Cr","p":"u","x":0.2,"y":5.5},{"s":"Cr","p":"u","x":0.25,"y":2},{"s":"Cr","p":"u","x":0.3,"y":0},{"s":"Cr","p":"u","x":1.05,"y":0},{"s":"Cr","p":"u","x":1.1,"y":7},{"s":"Cr","p":"u","x":1.13,"y":13.5},{"s":"Cr","p":"u","x":1.17,"y":7},{"s":"Cr","p":"u","x":1.22,"y":0},{"s":"Cr","p":"u","x":3,"y":0},
{"s":"Cr","p":"d","x":-3,"y":-0.5},{"s":"Cr","p":"d","x":-2,"y":-0.5},{"s":"Cr","p":"d","x":-1,"y":-0.5},{"s":"Cr","p":"d","x":-0.3,"y":0},{"s":"Cr","p":"d","x":3,"y":0},
{"s":"I","p":"u","x":-3,"y":3.5},{"s":"I","p":"u","x":-2.95,"y":5},{"s":"I","p":"u","x":-2.9,"y":3},{"s":"I","p":"u","x":-2.85,"y":5.5},{"s":"I","p":"u","x":-2.8,"y":4},{"s":"I","p":"u","x":-2.75,"y":3},{"s":"I","p":"u","x":-2.7,"y":2.5},{"s":"I","p":"u","x":-2.6,"y":2},{"s":"I","p":"u","x":-2.5,"y":1},{"s":"I","p":"u","x":-2.4,"y":1},{"s":"I","p":"u","x":-2.3,"y":1},{"s":"I","p":"u","x":-2.2,"y":2.5},{"s":"I","p":"u","x":-2.1,"y":4},{"s":"I","p":"u","x":-2,"y":4},{"s":"I","p":"u","x":-1.9,"y":4.5},{"s":"I","p":"u","x":-1.8,"y":4},{"s":"I","p":"u","x":-1.7,"y":3.5},{"s":"I","p":"u","x":-1.6,"y":3},{"s":"I","p":"u","x":-1.5,"y":3},{"s":"I","p":"u","x":-1.4,"y":3},{"s":"I","p":"u","x":-1.3,"y":3.5},{"s":"I","p":"u","x":-1.2,"y":4},{"s":"I","p":"u","x":-1.1,"y":4.5},{"s":"I","p":"u","x":-1,"y":5.5},{"s":"I","p":"u","x":-0.9,"y":5},{"s":"I","p":"u","x":-0.8,"y":5},{"s":"I","p":"u","x":-0.7,"y":4.5},{"s":"I","p":"u","x":-0.6,"y":4},{"s":"I","p":"u","x":-0.55,"y":6},{"s":"I","p":"u","x":-0.5,"y":10},{"s":"I","p":"u","x":-0.46,"y":11.5},{"s":"I","p":"u","x":-0.42,"y":10},{"s":"I","p":"u","x":-0.38,"y":11},{"s":"I","p":"u","x":-0.34,"y":11.5},{"s":"I","p":"u","x":-0.3,"y":5},{"s":"I","p":"u","x":-0.25,"y":0},{"s":"I","p":"u","x":0,"y":0},{"s":"I","p":"u","x":0.05,"y":5},{"s":"I","p":"u","x":0.1,"y":0},{"s":"I","p":"u","x":0.15,"y":4},{"s":"I","p":"u","x":0.2,"y":10.5},{"s":"I","p":"u","x":0.25,"y":3},{"s":"I","p":"u","x":0.3,"y":0},{"s":"I","p":"u","x":1.05,"y":0},{"s":"I","p":"u","x":1.1,"y":3},{"s":"I","p":"u","x":1.14,"y":5},{"s":"I","p":"u","x":1.18,"y":2},{"s":"I","p":"u","x":1.22,"y":0},{"s":"I","p":"u","x":3,"y":0},
{"s":"I","p":"d","x":-3,"y":-4},{"s":"I","p":"d","x":-2.95,"y":-3},{"s":"I","p":"d","x":-2.9,"y":-2},{"s":"I","p":"d","x":-2.85,"y":-3.5},{"s":"I","p":"d","x":-2.8,"y":-3},{"s":"I","p":"d","x":-2.7,"y":-4},{"s":"I","p":"d","x":-2.6,"y":-2.5},{"s":"I","p":"d","x":-2.5,"y":-2},{"s":"I","p":"d","x":-2.4,"y":-2},{"s":"I","p":"d","x":-2.3,"y":-4},{"s":"I","p":"d","x":-2.2,"y":-6},{"s":"I","p":"d","x":-2.1,"y":-7},{"s":"I","p":"d","x":-2,"y":-6.5},{"s":"I","p":"d","x":-1.9,"y":-7},{"s":"I","p":"d","x":-1.8,"y":-8.5},{"s":"I","p":"d","x":-1.7,"y":-8},{"s":"I","p":"d","x":-1.6,"y":-7},{"s":"I","p":"d","x":-1.5,"y":-5},{"s":"I","p":"d","x":-1.4,"y":-6},{"s":"I","p":"d","x":-1.3,"y":-5},{"s":"I","p":"d","x":-1.2,"y":-6},{"s":"I","p":"d","x":-1.1,"y":-5},{"s":"I","p":"d","x":-1,"y":-6.5},{"s":"I","p":"d","x":-0.9,"y":-5},{"s":"I","p":"d","x":-0.8,"y":-5},{"s":"I","p":"d","x":-0.72,"y":-6},{"s":"I","p":"d","x":-0.67,"y":-14},{"s":"I","p":"d","x":-0.62,"y":-7},{"s":"I","p":"d","x":-0.55,"y":-6},{"s":"I","p":"d","x":-0.5,"y":-5},{"s":"I","p":"d","x":-0.45,"y":-6},{"s":"I","p":"d","x":-0.41,"y":-13},{"s":"I","p":"d","x":-0.37,"y":-5},{"s":"I","p":"d","x":-0.3,"y":-2},{"s":"I","p":"d","x":-0.2,"y":0},{"s":"I","p":"d","x":0.45,"y":0},{"s":"I","p":"d","x":0.52,"y":-1},{"s":"I","p":"d","x":0.57,"y":-5},{"s":"I","p":"d","x":0.62,"y":-2},{"s":"I","p":"d","x":0.7,"y":-1},{"s":"I","p":"d","x":0.8,"y":0},{"s":"I","p":"d","x":3,"y":0},
{"s":"Fe","p":"u","x":-3,"y":0.5},{"s":"Fe","p":"u","x":-2.9,"y":1},{"s":"Fe","p":"u","x":-2.85,"y":2},{"s":"Fe","p":"u","x":-2.8,"y":3.5},{"s":"Fe","p":"u","x":-2.76,"y":15},{"s":"Fe","p":"u","x":-2.73,"y":30},{"s":"Fe","p":"u","x":-2.7,"y":55},{"s":"Fe","p":"u","x":-2.66,"y":55},{"s":"Fe","p":"u","x":-2.63,"y":33},{"s":"Fe","p":"u","x":-2.6,"y":14},{"s":"Fe","p":"u","x":-2.56,"y":2},{"s":"Fe","p":"u","x":-2.5,"y":1},{"s":"Fe","p":"u","x":-2.45,"y":3},{"s":"Fe","p":"u","x":-2.4,"y":5},{"s":"Fe","p":"u","x":-2.35,"y":2},{"s":"Fe","p":"u","x":-2.3,"y":1},{"s":"Fe","p":"u","x":-2.2,"y":0.5},{"s":"Fe","p":"u","x":-2,"y":0.5},{"s":"Fe","p":"u","x":-1.8,"y":0.5},{"s":"Fe","p":"u","x":-1.6,"y":1},{"s":"Fe","p":"u","x":-1.4,"y":1},{"s":"Fe","p":"u","x":-1.2,"y":1.5},{"s":"Fe","p":"u","x":-1.15,"y":3},{"s":"Fe","p":"u","x":-1.1,"y":7},{"s":"Fe","p":"u","x":-1.07,"y":10.5},{"s":"Fe","p":"u","x":-1.03,"y":6},{"s":"Fe","p":"u","x":-1,"y":2},{"s":"Fe","p":"u","x":-0.95,"y":1},{"s":"Fe","p":"u","x":-0.8,"y":0.5},{"s":"Fe","p":"u","x":-0.4,"y":0},{"s":"Fe","p":"u","x":1.75,"y":0},{"s":"Fe","p":"u","x":1.8,"y":1},{"s":"Fe","p":"u","x":1.83,"y":10},{"s":"Fe","p":"u","x":1.86,"y":30},{"s":"Fe","p":"u","x":1.88,"y":37},{"s":"Fe","p":"u","x":1.9,"y":25},{"s":"Fe","p":"u","x":1.93,"y":5},{"s":"Fe","p":"u","x":1.96,"y":0},{"s":"Fe","p":"u","x":3,"y":0},
{"s":"Fe","p":"d","x":-3,"y":0},{"s":"Fe","p":"d","x":-2.3,"y":0},{"s":"Fe","p":"d","x":-2.25,"y":-2},{"s":"Fe","p":"d","x":-2.2,"y":-6},{"s":"Fe","p":"d","x":-2.15,"y":-10},{"s":"Fe","p":"d","x":-2.1,"y":-13},{"s":"Fe","p":"d","x":-2.05,"y":-10},{"s":"Fe","p":"d","x":-2,"y":-9},{"s":"Fe","p":"d","x":-1.95,"y":-5},{"s":"Fe","p":"d","x":-1.9,"y":-1.5},{"s":"Fe","p":"d","x":-1.85,"y":-0.5},{"s":"Fe","p":"d","x":-1.5,"y":-0.5},{"s":"Fe","p":"d","x":-1,"y":0},{"s":"Fe","p":"d","x":-0.8,"y":-0.5},{"s":"Fe","p":"d","x":-0.72,"y":-1.5},{"s":"Fe","p":"d","x":-0.67,"y":-4},{"s":"Fe","p":"d","x":-0.62,"y":-10},{"s":"Fe","p":"d","x":-0.58,"y":-22},{"s":"Fe","p":"d","x":-0.55,"y":-35},{"s":"Fe","p":"d","x":-0.53,"y":-47},{"s":"Fe","p":"d","x":-0.51,"y":-40},{"s":"Fe","p":"d","x":-0.48,"y":-18},{"s":"Fe","p":"d","x":-0.45,"y":-8},{"s":"Fe","p":"d","x":-0.42,"y":-3},{"s":"Fe","p":"d","x":-0.38,"y":-1},{"s":"Fe","p":"d","x":-0.3,"y":0},{"s":"Fe","p":"d","x":1.3,"y":0},{"s":"Fe","p":"d","x":1.35,"y":-3},{"s":"Fe","p":"d","x":1.38,"y":-4},{"s":"Fe","p":"d","x":1.41,"y":-1},{"s":"Fe","p":"d","x":1.45,"y":0},{"s":"Fe","p":"d","x":3,"y":0}
],
"D": [
{"s":"Total","x":-3,"u":60,"d":-55},{"s":"Total","x":-2.95,"u":60,"d":-50},{"s":"Total","x":-2.9,"u":60,"d":-28},{"s":"Total","x":-2.85,"u":60,"d":-20},{"s":"Total","x":-2.8,"u":40,"d":-25},{"s":"Total","x":-2.75,"u":38,"d":-31},{"s":"Total","x":-2.7,"u":34,"d":-37},{"s":"Total","x":-2.65,"u":41,"d":-24},{"s":"Total","x":-2.6,"u":36,"d":-25},{"s":"Total","x":-2.55,"u":33,"d":-30},{"s":"Total","x":-2.5,"u":24,"d":-35},{"s":"Total","x":-2.45,"u":29,"d":-26},{"s":"Total","x":-2.4,"u":24,"d":-26},{"s":"Total","x":-2.35,"u":20,"d":-30},{"s":"Total","x":-2.3,"u":23,"d":-42},{"s":"Total","x":-2.2,"u":30,"d":-55},{"s":"Total","x":-2.1,"u":60,"d":-55},{"s":"Total","x":-1.5,"u":60,"d":-55},{"s":"Total","x":-1.45,"u":50,"d":-46},{"s":"Total","x":-1.4,"u":60,"d":-55},{"s":"Total","x":-1.3,"u":46,"d":-55},{"s":"Total","x":-1.25,"u":60,"d":-50},{"s":"Total","x":-1.2,"u":60,"d":-44},{"s":"Total","x":-1.1,"u":60,"d":-46},{"s":"Total","x":-1,"u":60,"d":-48},{"s":"Total","x":-0.9,"u":60,"d":-50},{"s":"Total","x":-0.8,"u":60,"d":-55},{"s":"Total","x":-0.7,"u":25,"d":-52},{"s":"Total","x":-0.65,"u":24,"d":-48},{"s":"Total","x":-0.6,"u":28,"d":-38},{"s":"Total","x":-0.55,"u":22,"d":-33},{"s":"Total","x":-0.5,"u":20,"d":-30},{"s":"Total","x":-0.45,"u":21,"d":-32},{"s":"Total","x":-0.4,"u":19,"d":-30},{"s":"Total","x":-0.35,"u":22,"d":-24},{"s":"Total","x":-0.3,"u":8,"d":-10},{"s":"Total","x":-0.25,"u":3,"d":-4},{"s":"Total","x":-0.2,"u":1,"d":-2},{"s":"Total","x":-0.15,"u":4,"d":-2},{"s":"Total","x":-0.1,"u":12,"d":-3},{"s":"Total","x":-0.05,"u":3,"d":-6},{"s":"Total","x":0,"u":1,"d":-14},{"s":"Total","x":0.05,"u":0,"d":-2},{"s":"Total","x":0.1,"u":0,"d":0},{"s":"Total","x":0.15,"u":4,"d":0},{"s":"Total","x":0.2,"u":19,"d":0},{"s":"Total","x":0.25,"u":5,"d":0},{"s":"Total","x":0.3,"u":1,"d":0},{"s":"Total","x":0.45,"u":0,"d":0},{"s":"Total","x":0.5,"u":8,"d":-12},{"s":"Total","x":0.55,"u":50,"d":-55},{"s":"Total","x":0.6,"u":60,"d":-55},{"s":"Total","x":0.7,"u":60,"d":-55},{"s":"Total","x":0.75,"u":30,"d":-20},{"s":"Total","x":0.8,"u":2,"d":-2},{"s":"Total","x":0.85,"u":0,"d":0},{"s":"Total","x":1,"u":0,"d":0},{"s":"Total","x":1.05,"u":8,"d":0},{"s":"Total","x":1.1,"u":31,"d":0},{"s":"Total","x":1.15,"u":14,"d":0},{"s":"Total","x":1.2,"u":2,"d":0},{"s":"Total","x":1.3,"u":3,"d":-5},{"s":"Total","x":1.37,"u":12,"d":-20},{"s":"Total","x":1.41,"u":17,"d":-29},{"s":"Total","x":1.45,"u":5,"d":-8},{"s":"Total","x":1.5,"u":0,"d":0},{"s":"Total","x":2.7,"u":0,"d":0},{"s":"Total","x":2.76,"u":13,"d":-14},{"s":"Total","x":2.82,"u":2,"d":-3},{"s":"Total","x":2.88,"u":8,"d":-10},{"s":"Total","x":2.93,"u":13,"d":-14},{"s":"Total","x":2.97,"u":3,"d":-3},{"s":"Total","x":3,"u":0,"d":0},
{"s":"C","x":-3,"u":1,"d":-1},{"s":"C","x":-2.95,"u":1,"d":-1.5},{"s":"C","x":-2.9,"u":1.5,"d":-2},{"s":"C","x":-2.85,"u":1,"d":-3},{"s":"C","x":-2.8,"u":1,"d":-4},{"s":"C","x":-2.75,"u":1.5,"d":-11},{"s":"C","x":-2.7,"u":1,"d":-4},{"s":"C","x":-2.6,"u":2,"d":-2},{"s":"C","x":-2.5,"u":1,"d":-2},{"s":"C","x":-2.45,"u":5,"d":-3},{"s":"C","x":-2.4,"u":2,"d":-4},{"s":"C","x":-2.3,"u":1,"d":-3},{"s":"C","x":-2.2,"u":1,"d":-3},{"s":"C","x":-2.1,"u":3,"d":-4},{"s":"C","x":-2,"u":7,"d":-3},{"s":"C","x":-1.95,"u":3,"d":-4},{"s":"C","x":-1.9,"u":3,"d":-5},{"s":"C","x":-1.8,"u":3,"d":-6},{"s":"C","x":-1.7,"u":5,"d":-7},{"s":"C","x":-1.6,"u":8,"d":-10},{"s":"C","x":-1.55,"u":13,"d":-14},{"s":"C","x":-1.5,"u":6,"d":-9},{"s":"C","x":-1.45,"u":5,"d":-6},{"s":"C","x":-1.4,"u":4,"d":-6},{"s":"C","x":-1.3,"u":7,"d":-5},{"s":"C","x":-1.25,"u":4,"d":-4},{"s":"C","x":-1.2,"u":3,"d":-4},{"s":"C","x":-1,"u":2,"d":-3},{"s":"C","x":-0.8,"u":2,"d":-3},{"s":"C","x":-0.6,"u":1,"d":-2},{"s":"C","x":-0.5,"u":1,"d":-1},{"s":"C","x":-0.45,"u":6,"d":-1},{"s":"C","x":-0.4,"u":1,"d":-1},{"s":"C","x":-0.3,"u":0,"d":0},{"s":"C","x":-0.15,"u":0,"d":0},{"s":"C","x":-0.1,"u":12,"d":0},{"s":"C","x":-0.05,"u":2,"d":0},{"s":"C","x":0,"u":0,"d":-13},{"s":"C","x":0.04,"u":0,"d":-2},{"s":"C","x":0.08,"u":0,"d":0},{"s":"C","x":1.3,"u":0,"d":0},{"s":"C","x":1.36,"u":5,"d":-8},{"s":"C","x":1.41,"u":17,"d":-19},{"s":"C","x":1.45,"u":4,"d":-5},{"s":"C","x":1.5,"u":0,"d":0},{"s":"C","x":2.7,"u":0,"d":0},{"s":"C","x":2.76,"u":5.5,"d":-10},{"s":"C","x":2.82,"u":1,"d":-2},{"s":"C","x":2.88,"u":3,"d":-6},{"s":"C","x":2.93,"u":5,"d":-10},{"s":"C","x":2.97,"u":1,"d":-2},{"s":"C","x":3,"u":0,"d":0},
{"s":"Cr","p":"u","x":-3,"y":6.5},{"s":"Cr","p":"u","x":-2.95,"y":6},{"s":"Cr","p":"u","x":-2.9,"y":11},{"s":"Cr","p":"u","x":-2.85,"y":8},{"s":"Cr","p":"u","x":-2.8,"y":8.5},{"s":"Cr","p":"u","x":-2.75,"y":6},{"s":"Cr","p":"u","x":-2.7,"y":4},{"s":"Cr","p":"u","x":-2.6,"y":2.5},{"s":"Cr","p":"u","x":-2.5,"y":1},{"s":"Cr","p":"u","x":-2.4,"y":1},{"s":"Cr","p":"u","x":-2.3,"y":1},{"s":"Cr","p":"u","x":-2.2,"y":1.5},{"s":"Cr","p":"u","x":-2.1,"y":2},{"s":"Cr","p":"u","x":-2,"y":2},{"s":"Cr","p":"u","x":-1.9,"y":2.5},{"s":"Cr","p":"u","x":-1.8,"y":3.5},{"s":"Cr","p":"u","x":-1.7,"y":3.5},{"s":"Cr","p":"u","x":-1.6,"y":3.5},{"s":"Cr","p":"u","x":-1.5,"y":3},{"s":"Cr","p":"u","x":-1.4,"y":3},{"s":"Cr","p":"u","x":-1.3,"y":3},{"s":"Cr","p":"u","x":-1.2,"y":3},{"s":"Cr","p":"u","x":-1.1,"y":2.5},{"s":"Cr","p":"u","x":-1,"y":2},{"s":"Cr","p":"u","x":-0.9,"y":2},{"s":"Cr","p":"u","x":-0.8,"y":1.5},{"s":"Cr","p":"u","x":-0.7,"y":1.5},{"s":"Cr","p":"u","x":-0.6,"y":1},{"s":"Cr","p":"u","x":-0.5,"y":1},{"s":"Cr","p":"u","x":-0.4,"y":0.5},{"s":"Cr","p":"u","x":-0.3,"y":0},{"s":"Cr","p":"u","x":0.1,"y":0},{"s":"Cr","p":"u","x":0.15,"y":2.5},{"s":"Cr","p":"u","x":0.2,"y":5},{"s":"Cr","p":"u","x":0.25,"y":2},{"s":"Cr","p":"u","x":0.3,"y":0},{"s":"Cr","p":"u","x":1.05,"y":0},{"s":"Cr","p":"u","x":1.1,"y":7},{"s":"Cr","p":"u","x":1.13,"y":13},{"s":"Cr","p":"u","x":1.17,"y":7},{"s":"Cr","p":"u","x":1.22,"y":0},{"s":"Cr","p":"u","x":3,"y":0},
{"s":"Cr","p":"d","x":-3,"y":-0.5},{"s":"Cr","p":"d","x":-1,"y":-0.5},{"s":"Cr","p":"d","x":-0.3,"y":0},{"s":"Cr","p":"d","x":3,"y":0},
{"s":"I","p":"u","x":-3,"y":3},{"s":"I","p":"u","x":-2.95,"y":4},{"s":"I","p":"u","x":-2.9,"y":3},{"s":"I","p":"u","x":-2.85,"y":4.5},{"s":"I","p":"u","x":-2.8,"y":4},{"s":"I","p":"u","x":-2.7,"y":2.5},{"s":"I","p":"u","x":-2.6,"y":2.5},{"s":"I","p":"u","x":-2.5,"y":1},{"s":"I","p":"u","x":-2.4,"y":1},{"s":"I","p":"u","x":-2.3,"y":1.5},{"s":"I","p":"u","x":-2.2,"y":2.5},{"s":"I","p":"u","x":-2.1,"y":4},{"s":"I","p":"u","x":-2,"y":3.5},{"s":"I","p":"u","x":-1.9,"y":3.5},{"s":"I","p":"u","x":-1.8,"y":3.5},{"s":"I","p":"u","x":-1.7,"y":3},{"s":"I","p":"u","x":-1.6,"y":3},{"s":"I","p":"u","x":-1.5,"y":3},{"s":"I","p":"u","x":-1.4,"y":3.5},{"s":"I","p":"u","x":-1.3,"y":3.5},{"s":"I","p":"u","x":-1.2,"y":4},{"s":"I","p":"u","x":-1.1,"y":4},{"s":"I","p":"u","x":-1,"y":4.5},{"s":"I","p":"u","x":-0.9,"y":4.5},{"s":"I","p":"u","x":-0.8,"y":5},{"s":"I","p":"u","x":-0.7,"y":4},{"s":"I","p":"u","x":-0.6,"y":3},{"s":"I","p":"u","x":-0.55,"y":2},{"s":"I","p":"u","x":-0.5,"y":8},{"s":"I","p":"u","x":-0.46,"y":11},{"s":"I","p":"u","x":-0.42,"y":10},{"s":"I","p":"u","x":-0.38,"y":11},{"s":"I","p":"u","x":-0.34,"y":10},{"s":"I","p":"u","x":-0.3,"y":3},{"s":"I","p":"u","x":-0.25,"y":0},{"s":"I","p":"u","x":0,"y":0},{"s":"I","p":"u","x":0.04,"y":3.5},{"s":"I","p":"u","x":0.08,"y":0},{"s":"I","p":"u","x":0.15,"y":4},{"s":"I","p":"u","x":0.2,"y":10},{"s":"I","p":"u","x":0.25,"y":3},{"s":"I","p":"u","x":0.3,"y":0},{"s":"I","p":"u","x":1.05,"y":0},{"s":"I","p":"u","x":1.1,"y":3},{"s":"I","p":"u","x":1.14,"y":4},{"s":"I","p":"u","x":1.18,"y":2},{"s":"I","p":"u","x":1.22,"y":0},{"s":"I","p":"u","x":3,"y":0},
{"s":"I","p":"d","x":-3,"y":-3},{"s":"I","p":"d","x":-2.95,"y":-4},{"s":"I","p":"d","x":-2.9,"y":-3},{"s":"I","p":"d","x":-2.8,"y":-3},{"s":"I","p":"d","x":-2.7,"y":-2.5},{"s":"I","p":"d","x":-2.6,"y":-2},{"s":"I","p":"d","x":-2.5,"y":-2.5},{"s":"I","p":"d","x":-2.4,"y":-4},{"s":"I","p":"d","x":-2.3,"y":-3},{"s":"I","p":"d","x":-2.2,"y":-4},{"s":"I","p":"d","x":-2.1,"y":-6},{"s":"I","p":"d","x":-2.05,"y":-8},{"s":"I","p":"d","x":-2,"y":-8.5},{"s":"I","p":"d","x":-1.9,"y":-8},{"s":"I","p":"d","x":-1.8,"y":-8},{"s":"I","p":"d","x":-1.7,"y":-7},{"s":"I","p":"d","x":-1.6,"y":-7.5},{"s":"I","p":"d","x":-1.5,"y":-6},{"s":"I","p":"d","x":-1.4,"y":-5},{"s":"I","p":"d","x":-1.3,"y":-5.5},{"s":"I","p":"d","x":-1.2,"y":-6},{"s":"I","p":"d","x":-1.1,"y":-6},{"s":"I","p":"d","x":-1,"y":-5.5},{"s":"I","p":"d","x":-0.9,"y":-5},{"s":"I","p":"d","x":-0.8,"y":-4.5},{"s":"I","p":"d","x":-0.72,"y":-6},{"s":"I","p":"d","x":-0.67,"y":-13.5},{"s":"I","p":"d","x":-0.62,"y":-6},{"s":"I","p":"d","x":-0.55,"y":-5},{"s":"I","p":"d","x":-0.5,"y":-5},{"s":"I","p":"d","x":-0.45,"y":-7},{"s":"I","p":"d","x":-0.41,"y":-14.5},{"s":"I","p":"d","x":-0.37,"y":-5},{"s":"I","p":"d","x":-0.3,"y":-1},{"s":"I","p":"d","x":-0.2,"y":0},{"s":"I","p":"d","x":0.45,"y":0},{"s":"I","p":"d","x":0.5,"y":-1},{"s":"I","p":"d","x":0.54,"y":-6},{"s":"I","p":"d","x":0.6,"y":-3},{"s":"I","p":"d","x":0.65,"y":-1},{"s":"I","p":"d","x":0.7,"y":-0.5},{"s":"I","p":"d","x":0.8,"y":0},{"s":"I","p":"d","x":3,"y":0},
{"s":"Fe","p":"u","x":-3,"y":0.5},{"s":"Fe","p":"u","x":-2.97,"y":1.5},{"s":"Fe","p":"u","x":-2.93,"y":0.5},{"s":"Fe","p":"u","x":-2.8,"y":0.5},{"s":"Fe","p":"u","x":-2.5,"y":0.5},{"s":"Fe","p":"u","x":-2.2,"y":0.5},{"s":"Fe","p":"u","x":-2.15,"y":3.5},{"s":"Fe","p":"u","x":-2.12,"y":10},{"s":"Fe","p":"u","x":-2.09,"y":16},{"s":"Fe","p":"u","x":-2.06,"y":19},{"s":"Fe","p":"u","x":-2.03,"y":14},{"s":"Fe","p":"u","x":-2,"y":7},{"s":"Fe","p":"u","x":-1.95,"y":3},{"s":"Fe","p":"u","x":-1.9,"y":1},{"s":"Fe","p":"u","x":-1.7,"y":0.5},{"s":"Fe","p":"u","x":-1.5,"y":1},{"s":"Fe","p":"u","x":-1.3,"y":0.5},{"s":"Fe","p":"u","x":-1,"y":0.5},{"s":"Fe","p":"u","x":-0.8,"y":0.5},{"s":"Fe","p":"u","x":-0.68,"y":1},{"s":"Fe","p":"u","x":-0.64,"y":5},{"s":"Fe","p":"u","x":-0.61,"y":20},{"s":"Fe","p":"u","x":-0.58,"y":39},{"s":"Fe","p":"u","x":-0.56,"y":55},{"s":"Fe","p":"u","x":-0.53,"y":55},{"s":"Fe","p":"u","x":-0.51,"y":39},{"s":"Fe","p":"u","x":-0.49,"y":14},{"s":"Fe","p":"u","x":-0.46,"y":2},{"s":"Fe","p":"u","x":-0.42,"y":0.5},{"s":"Fe","p":"u","x":-0.3,"y":0},{"s":"Fe","p":"u","x":1.3,"y":0},{"s":"Fe","p":"u","x":1.37,"y":2},{"s":"Fe","p":"u","x":1.41,"y":4},{"s":"Fe","p":"u","x":1.45,"y":0.5},{"s":"Fe","p":"u","x":1.5,"y":0},{"s":"Fe","p":"u","x":3,"y":0},
{"s":"Fe","p":"d","x":-3,"y":-1},{"s":"Fe","p":"d","x":-2.95,"y":-1},{"s":"Fe","p":"d","x":-2.9,"y":-1.5},{"s":"Fe","p":"d","x":-2.85,"y":-2},{"s":"Fe","p":"d","x":-2.8,"y":-4},{"s":"Fe","p":"d","x":-2.76,"y":-18},{"s":"Fe","p":"d","x":-2.73,"y":-37},{"s":"Fe","p":"d","x":-2.7,"y":-55},{"s":"Fe","p":"d","x":-2.66,"y":-55},{"s":"Fe","p":"d","x":-2.63,"y":-24},{"s":"Fe","p":"d","x":-2.6,"y":-4},{"s":"Fe","p":"d","x":-2.55,"y":-1.5},{"s":"Fe","p":"d","x":-2.5,"y":-1.5},{"s":"Fe","p":"d","x":-2.45,"y":-4},{"s":"Fe","p":"d","x":-2.4,"y":-6.5},{"s":"Fe","p":"d","x":-2.35,"y":-3},{"s":"Fe","p":"d","x":-2.3,"y":-1.5},{"s":"Fe","p":"d","x":-2.2,"y":-1},{"s":"Fe","p":"d","x":-2,"y":-0.5},{"s":"Fe","p":"d","x":-1.5,"y":-0.5},{"s":"Fe","p":"d","x":-1.3,"y":-1},{"s":"Fe","p":"d","x":-1.2,"y":-3},{"s":"Fe","p":"d","x":-1.15,"y":-6},{"s":"Fe","p":"d","x":-1.1,"y":-9},{"s":"Fe","p":"d","x":-1.05,"y":-8},{"s":"Fe","p":"d","x":-1,"y":-2},{"s":"Fe","p":"d","x":-0.9,"y":-0.5},{"s":"Fe","p":"d","x":-0.8,"y":0},{"s":"Fe","p":"d","x":1.35,"y":0},{"s":"Fe","p":"d","x":1.4,"y":-1},{"s":"Fe","p":"d","x":1.45,"y":0},{"s":"Fe","p":"d","x":1.75,"y":0},{"s":"Fe","p":"d","x":1.8,"y":-8},{"s":"Fe","p":"d","x":1.83,"y":-25},{"s":"Fe","p":"d","x":1.86,"y":-37},{"s":"Fe","p":"d","x":1.89,"y":-20},{"s":"Fe","p":"d","x":1.92,"y":-4},{"s":"Fe","p":"d","x":1.96,"y":0},{"s":"Fe","p":"d","x":3,"y":0}
]
},
"concat": [
{
 "width": 392, "height": 262,
 "data": {"name": "A"},
 "title": {"text": "Parallel", "offset": 0},
 "resolve": {"axis": {"x": "independent", "y": "independent"}},
 "encoding": {"color": {"field": "s", "type": "nominal", "scale": {"domain": ["Total","C","Cr","I","Fe"], "range": ["#c0c0c0","#0a6cff","#f01414","#000000","#ff6414"]}, "legend": {"labelExpr": "datum.label === 'Cr' ? 'Cr (D*)' : datum.label === 'I' ? 'I (D*)' : datum.label === 'Fe' ? 'Fe-d  (5x)' : datum.label", "encode": {"symbols": {"update": {"stroke": {"signal": "datum.value === 'Total' ? '#c0c0c0' : datum.value === 'C' ? '#0a6cff' : datum.value === 'Cr' ? '#f01414' : datum.value === 'I' ? '#000000' : '#ff6414'"}, "strokeWidth": {"signal": "datum.value === 'Total' || datum.value === 'C' ? 8 : datum.value === 'Fe' ? 2.5 : 1.5"}, "strokeDash": {"signal": "datum.value === 'I' ? [6,3,2,3] : datum.value === 'Fe' ? [8,5] : []"}, "strokeJoin": {"value": "round"}, "strokeCap": {"value": "butt"}, "fill": {"value": "transparent"}, "opacity": {"value": 1}}}}}}},
 "layer": [
  {"transform": [{"filter": "datum.s === 'Total'"}], "mark": {"type": "area", "clip": true},
   "encoding": {"x": {"field": "x", "type": "quantitative", "scale": {"domain": [-3, 3]}, "axis": {"values": [-3,-2,-1,0,1,2,3], "labels": false, "title": null, "tickSize": -7}},
                "y": {"field": "u", "type": "quantitative", "scale": {"domain": [-50, 50]}, "axis": {"values": [-40,-20,0,20,40], "tickSize": -7, "labelPadding": 42, "labelExpr": "'' + datum.value", "title": "Density of States (1/eV)", "titlePadding": 6}},
                "y2": {"field": "d"}}},
  {"transform": [{"filter": "datum.s === 'C'"}], "mark": {"type": "area", "clip": true, "interpolate": "monotone"},
   "encoding": {"x": {"field": "x", "type": "quantitative", "axis": null}, "y": {"field": "u", "type": "quantitative", "axis": null}, "y2": {"field": "d"}}},
  {"data": {"values": [{"x": 0}]}, "mark": {"type": "rule", "strokeDash": [2, 3], "strokeWidth": 1.5},
   "encoding": {"x": {"field": "x", "type": "quantitative", "axis": null}, "color": {"value": "black"}}},
  {"transform": [{"filter": "datum.s === 'Cr'"}], "mark": {"type": "line", "clip": true, "interpolate": "monotone", "strokeWidth": 1.5},
   "encoding": {"x": {"field": "x", "type": "quantitative", "axis": {"orient": "top", "values": [-3,-2,-1,0,1,2,3], "labels": false, "title": null, "tickSize": -7}}, "y": {"field": "y", "type": "quantitative", "axis": {"orient": "right", "values": [-40,-20,0,20,40], "labels": false, "title": null, "tickSize": -7}}, "detail": {"field": "p"}}},
  {"transform": [{"filter": "datum.s === 'I'"}], "mark": {"type": "line", "clip": true, "interpolate": "monotone", "strokeWidth": 1.5, "strokeDash": [6, 3, 2, 3]},
   "encoding": {"x": {"field": "x", "type": "quantitative", "axis": null}, "y": {"field": "y", "type": "quantitative", "axis": null}, "detail": {"field": "p"}}},
  {"transform": [{"filter": "datum.s === 'Fe'"}], "mark": {"type": "line", "clip": true, "interpolate": "monotone", "strokeWidth": 2.5, "strokeDash": [9, 5]},
   "encoding": {"x": {"field": "x", "type": "quantitative", "axis": null}, "y": {"field": "y", "type": "quantitative", "axis": null}, "detail": {"field": "p"}}},
  {"data": {"values": [{"t": "(a)"}]}, "mark": {"type": "text", "dx": -80, "dy": -11, "fontSize": 18},
   "encoding": {"x": {"datum": -3, "type": "quantitative", "axis": null}, "y": {"datum": 50, "type": "quantitative", "axis": null}, "text": {"field": "t"}, "color": {"value": "black"}}}
 ]
},
{
 "width": 393, "height": 262,
 "data": {"name": "B"},
 "title": {"text": "Anti-Parallel", "offset": 0},
 "resolve": {"axis": {"x": "independent", "y": "independent"}},
 "encoding": {"color": {"field": "s", "type": "nominal", "scale": {"domain": ["Total","C","Cr","I","Fe"], "range": ["#c0c0c0","#0a6cff","#f01414","#000000","#ff6414"]}, "legend": {"labelExpr": "datum.label === 'Cr' ? 'Cr (D*)' : datum.label === 'I' ? 'I (D*)' : datum.label === 'Fe' ? 'Fe-d  (5x)' : datum.label", "encode": {"symbols": {"update": {"stroke": {"signal": "datum.value === 'Total' ? '#c0c0c0' : datum.value === 'C' ? '#0a6cff' : datum.value === 'Cr' ? '#f01414' : datum.value === 'I' ? '#000000' : '#ff6414'"}, "strokeWidth": {"signal": "datum.value === 'Total' || datum.value === 'C' ? 8 : datum.value === 'Fe' ? 2.5 : 1.5"}, "strokeDash": {"signal": "datum.value === 'I' ? [6,3,2,3] : datum.value === 'Fe' ? [8,5] : []"}, "strokeJoin": {"value": "round"}, "strokeCap": {"value": "butt"}, "fill": {"value": "transparent"}, "opacity": {"value": 1}}}}}}},
 "layer": [
  {"transform": [{"filter": "datum.s === 'Total'"}], "mark": {"type": "area", "clip": true},
   "encoding": {"x": {"field": "x", "type": "quantitative", "scale": {"domain": [-3, 3]}, "axis": {"values": [-3,-2,-1,0,1,2,3], "labels": false, "title": null, "tickSize": -7}},
                "y": {"field": "u", "type": "quantitative", "scale": {"domain": [-50, 50]}, "axis": {"values": [-40,-20,0,20,40], "tickSize": -7, "labels": false, "title": null}},
                "y2": {"field": "d"}}},
  {"transform": [{"filter": "datum.s === 'C'"}], "mark": {"type": "area", "clip": true, "interpolate": "monotone"},
   "encoding": {"x": {"field": "x", "type": "quantitative", "axis": null}, "y": {"field": "u", "type": "quantitative", "axis": null}, "y2": {"field": "d"}}},
  {"data": {"values": [{"x": 0}]}, "mark": {"type": "rule", "strokeDash": [2, 3], "strokeWidth": 1.5},
   "encoding": {"x": {"field": "x", "type": "quantitative", "axis": null}, "color": {"value": "black"}}},
  {"transform": [{"filter": "datum.s === 'Cr'"}], "mark": {"type": "line", "clip": true, "interpolate": "monotone", "strokeWidth": 1.5},
   "encoding": {"x": {"field": "x", "type": "quantitative", "axis": {"orient": "top", "values": [-3,-2,-1,0,1,2,3], "labels": false, "title": null, "tickSize": -7}}, "y": {"field": "y", "type": "quantitative", "axis": {"orient": "right", "values": [-40,-20,0,20,40], "labels": false, "title": null, "tickSize": -7}}, "detail": {"field": "p"}}},
  {"transform": [{"filter": "datum.s === 'I'"}], "mark": {"type": "line", "clip": true, "interpolate": "monotone", "strokeWidth": 1.5, "strokeDash": [6, 3, 2, 3]},
   "encoding": {"x": {"field": "x", "type": "quantitative", "axis": null}, "y": {"field": "y", "type": "quantitative", "axis": null}, "detail": {"field": "p"}}},
  {"transform": [{"filter": "datum.s === 'Fe'"}], "mark": {"type": "line", "clip": true, "interpolate": "monotone", "strokeWidth": 2.5, "strokeDash": [9, 5]},
   "encoding": {"x": {"field": "x", "type": "quantitative", "axis": null}, "y": {"field": "y", "type": "quantitative", "axis": null}, "detail": {"field": "p"}}},
  {"data": {"values": [{"t": "(b)"}]}, "mark": {"type": "text", "dx": -16, "dy": -11, "fontSize": 18},
   "encoding": {"x": {"datum": -3, "type": "quantitative", "axis": null}, "y": {"datum": 50, "type": "quantitative", "axis": null}, "text": {"field": "t"}, "color": {"value": "black"}}}
 ]
},
{
 "width": 392, "height": 262,
 "data": {"name": "C"},
 "title": {"text": "Anti-Ferromagnetic", "dx": 177, "offset": 6},
 "resolve": {"axis": {"x": "independent", "y": "independent"}},
 "encoding": {"color": {"field": "s", "type": "nominal", "scale": {"domain": ["Total","C","Cr","I","Fe"], "range": ["#c0c0c0","#0a6cff","#f01414","#000000","#ff6414"]}, "legend": {"labelExpr": "datum.label === 'Cr' ? 'Cr (D*)' : datum.label === 'I' ? 'I (D*)' : datum.label === 'Fe' ? 'Fe-d  (5x)' : datum.label", "encode": {"symbols": {"update": {"stroke": {"signal": "datum.value === 'Total' ? '#c0c0c0' : datum.value === 'C' ? '#0a6cff' : datum.value === 'Cr' ? '#f01414' : datum.value === 'I' ? '#000000' : '#ff6414'"}, "strokeWidth": {"signal": "datum.value === 'Total' || datum.value === 'C' ? 8 : datum.value === 'Fe' ? 2.5 : 1.5"}, "strokeDash": {"signal": "datum.value === 'I' ? [6,3,2,3] : datum.value === 'Fe' ? [8,5] : []"}, "strokeJoin": {"value": "round"}, "strokeCap": {"value": "butt"}, "fill": {"value": "transparent"}, "opacity": {"value": 1}}}}}}},
 "layer": [
  {"transform": [{"filter": "datum.s === 'Total'"}], "mark": {"type": "area", "clip": true},
   "encoding": {"x": {"field": "x", "type": "quantitative", "scale": {"domain": [-3, 3]}, "axis": {"values": [-3,-2,-1,0,1,2,3], "tickSize": -7, "labelPadding": 17, "labelExpr": "'' + datum.value", "title": "E - Eꜰ (eV)", "titlePadding": 13}},
                "y": {"field": "u", "type": "quantitative", "scale": {"domain": [-50, 50]}, "axis": {"values": [-40,-20,0,20,40], "tickSize": -7, "labelPadding": 42, "labelExpr": "'' + datum.value", "title": "Density of States (1/eV)", "titlePadding": 6}},
                "y2": {"field": "d"}}},
  {"transform": [{"filter": "datum.s === 'C'"}], "mark": {"type": "area", "clip": true, "interpolate": "monotone"},
   "encoding": {"x": {"field": "x", "type": "quantitative", "axis": null}, "y": {"field": "u", "type": "quantitative", "axis": null}, "y2": {"field": "d"}}},
  {"data": {"values": [{"x": 0}]}, "mark": {"type": "rule", "strokeDash": [2, 3], "strokeWidth": 1.5},
   "encoding": {"x": {"field": "x", "type": "quantitative", "axis": null}, "color": {"value": "black"}}},
  {"transform": [{"filter": "datum.s === 'Cr'"}], "mark": {"type": "line", "clip": true, "interpolate": "monotone", "strokeWidth": 1.5},
   "encoding": {"x": {"field": "x", "type": "quantitative", "axis": {"orient": "top", "values": [-3,-2,-1,0,1,2,3], "labels": false, "title": null, "tickSize": -7}}, "y": {"field": "y", "type": "quantitative", "axis": {"orient": "right", "values": [-40,-20,0,20,40], "labels": false, "title": null, "tickSize": -7}}, "detail": {"field": "p"}}},
  {"transform": [{"filter": "datum.s === 'I'"}], "mark": {"type": "line", "clip": true, "interpolate": "monotone", "strokeWidth": 1.5, "strokeDash": [6, 3, 2, 3]},
   "encoding": {"x": {"field": "x", "type": "quantitative", "axis": null}, "y": {"field": "y", "type": "quantitative", "axis": null}, "detail": {"field": "p"}}},
  {"transform": [{"filter": "datum.s === 'Fe'"}], "mark": {"type": "line", "clip": true, "interpolate": "monotone", "strokeWidth": 2.5, "strokeDash": [9, 5]},
   "encoding": {"x": {"field": "x", "type": "quantitative", "axis": null}, "y": {"field": "y", "type": "quantitative", "axis": null}, "detail": {"field": "p"}}},
  {"data": {"values": [{"t": "(c)"}]}, "mark": {"type": "text", "dx": -80, "dy": -5, "fontSize": 18},
   "encoding": {"x": {"datum": -3, "type": "quantitative", "axis": null}, "y": {"datum": 50, "type": "quantitative", "axis": null}, "text": {"field": "t"}, "color": {"value": "black"}}}
 ]
},
{
 "width": 393, "height": 262,
 "data": {"name": "D"},
 "resolve": {"axis": {"x": "independent", "y": "independent"}},
 "encoding": {"color": {"field": "s", "type": "nominal", "scale": {"domain": ["Total","C","Cr","I","Fe"], "range": ["#c0c0c0","#0a6cff","#f01414","#000000","#ff6414"]}, "legend": {"labelExpr": "datum.label === 'Cr' ? 'Cr (D*)' : datum.label === 'I' ? 'I (D*)' : datum.label === 'Fe' ? 'Fe-d  (5x)' : datum.label", "encode": {"symbols": {"update": {"stroke": {"signal": "datum.value === 'Total' ? '#c0c0c0' : datum.value === 'C' ? '#0a6cff' : datum.value === 'Cr' ? '#f01414' : datum.value === 'I' ? '#000000' : '#ff6414'"}, "strokeWidth": {"signal": "datum.value === 'Total' || datum.value === 'C' ? 8 : datum.value === 'Fe' ? 2.5 : 1.5"}, "strokeDash": {"signal": "datum.value === 'I' ? [6,3,2,3] : datum.value === 'Fe' ? [8,5] : []"}, "strokeJoin": {"value": "round"}, "strokeCap": {"value": "butt"}, "fill": {"value": "transparent"}, "opacity": {"value": 1}}}}}}},
 "layer": [
  {"transform": [{"filter": "datum.s === 'Total'"}], "mark": {"type": "area", "clip": true},
   "encoding": {"x": {"field": "x", "type": "quantitative", "scale": {"domain": [-3, 3]}, "axis": {"values": [-3,-2,-1,0,1,2,3], "tickSize": -7, "labelPadding": 17, "labelExpr": "'' + datum.value", "title": "E - Eꜰ (eV)", "titlePadding": 13}},
                "y": {"field": "u", "type": "quantitative", "scale": {"domain": [-50, 50]}, "axis": {"values": [-40,-20,0,20,40], "tickSize": -7, "labels": false, "title": null}},
                "y2": {"field": "d"}}},
  {"transform": [{"filter": "datum.s === 'C'"}], "mark": {"type": "area", "clip": true, "interpolate": "monotone"},
   "encoding": {"x": {"field": "x", "type": "quantitative", "axis": null}, "y": {"field": "u", "type": "quantitative", "axis": null}, "y2": {"field": "d"}}},
  {"data": {"values": [{"x": 0}]}, "mark": {"type": "rule", "strokeDash": [2, 3], "strokeWidth": 1.5},
   "encoding": {"x": {"field": "x", "type": "quantitative", "axis": null}, "color": {"value": "black"}}},
  {"transform": [{"filter": "datum.s === 'Cr'"}], "mark": {"type": "line", "clip": true, "interpolate": "monotone", "strokeWidth": 1.5},
   "encoding": {"x": {"field": "x", "type": "quantitative", "axis": {"orient": "top", "values": [-3,-2,-1,0,1,2,3], "labels": false, "title": null, "tickSize": -7}}, "y": {"field": "y", "type": "quantitative", "axis": {"orient": "right", "values": [-40,-20,0,20,40], "labels": false, "title": null, "tickSize": -7}}, "detail": {"field": "p"}}},
  {"transform": [{"filter": "datum.s === 'I'"}], "mark": {"type": "line", "clip": true, "interpolate": "monotone", "strokeWidth": 1.5, "strokeDash": [6, 3, 2, 3]},
   "encoding": {"x": {"field": "x", "type": "quantitative", "axis": null}, "y": {"field": "y", "type": "quantitative", "axis": null}, "detail": {"field": "p"}}},
  {"transform": [{"filter": "datum.s === 'Fe'"}], "mark": {"type": "line", "clip": true, "interpolate": "monotone", "strokeWidth": 2.5, "strokeDash": [9, 5]},
   "encoding": {"x": {"field": "x", "type": "quantitative", "axis": null}, "y": {"field": "y", "type": "quantitative", "axis": null}, "detail": {"field": "p"}}},
  {"data": {"values": [{"t": "(d)"}]}, "mark": {"type": "text", "dx": -16, "dy": -5, "fontSize": 18},
   "encoding": {"x": {"datum": -3, "type": "quantitative", "axis": null}, "y": {"datum": 50, "type": "quantitative", "axis": null}, "text": {"field": "t"}, "color": {"value": "black"}}}
 ]
}
]
}
